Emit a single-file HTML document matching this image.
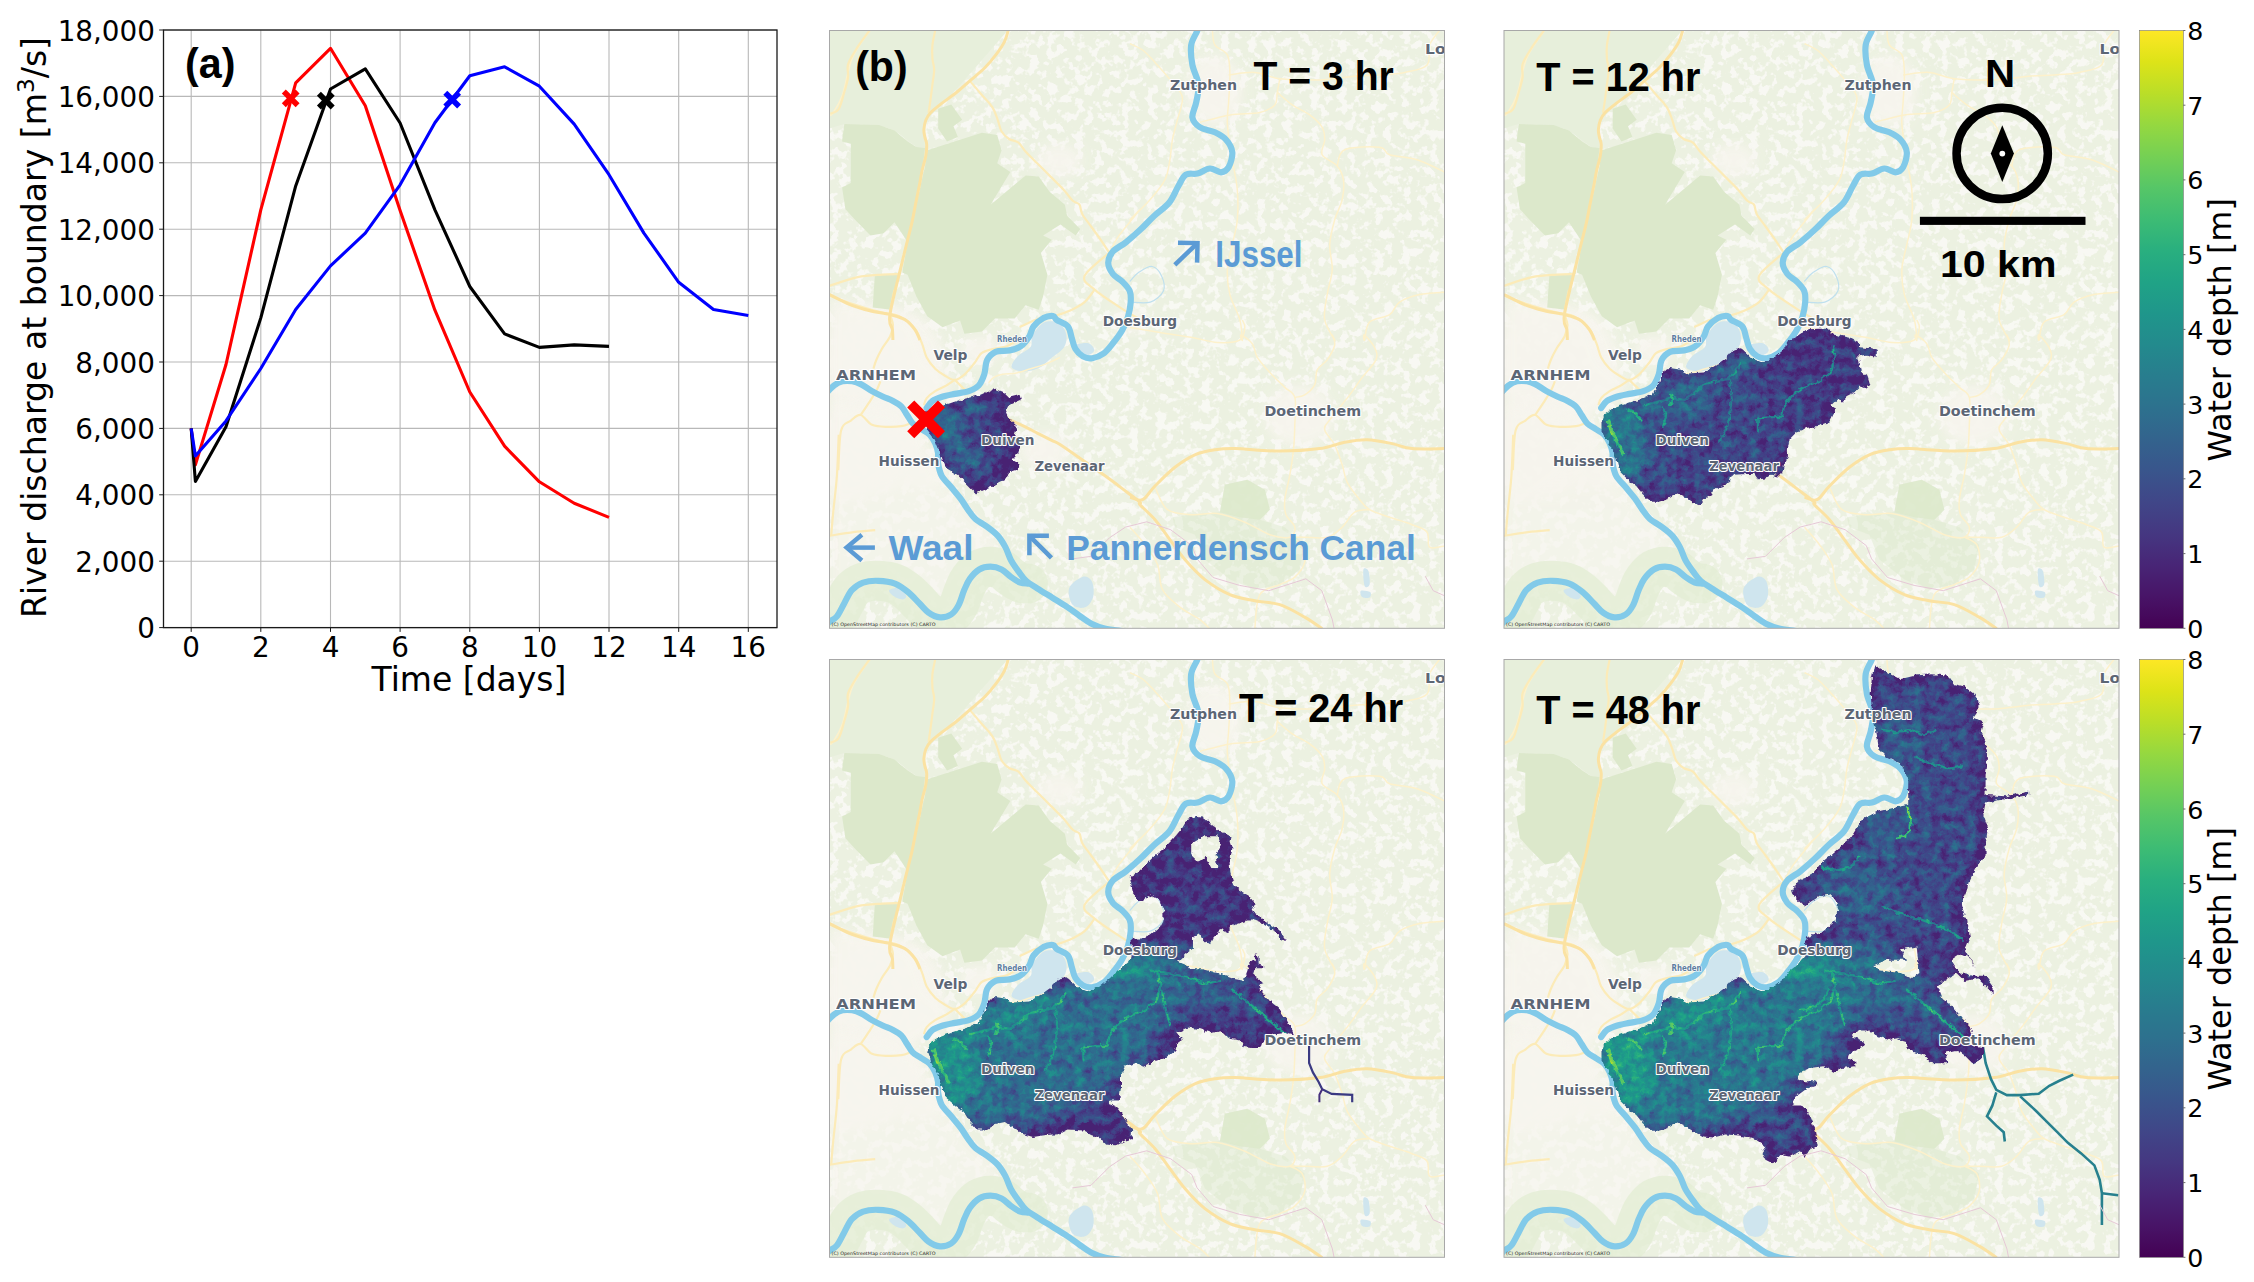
<!DOCTYPE html>
<html lang="en"><head><meta charset="utf-8"><title>Flood propagation figure</title>
<style>
html,body{margin:0;padding:0;background:#fff}
svg{display:block}
.dj{font-family:"DejaVu Sans","Liberation Sans",sans-serif}
.cb{font-family:"Liberation Sans","DejaVu Sans",sans-serif;font-weight:700}
.ml{font-family:"DejaVu Sans","Liberation Sans",sans-serif;font-weight:700;fill:#5c6675;stroke:#fff;stroke-width:2.2px;paint-order:stroke;stroke-linejoin:round}
</style></head><body>
<svg width="2254" height="1282" viewBox="0 0 2254 1282">
<rect width="2254" height="1282" fill="#fff"/>
<defs>
<linearGradient id="vir" x1="0" y1="1" x2="0" y2="0">
<stop offset="0.0000" stop-color="#440154"/>
<stop offset="0.0526" stop-color="#481467"/>
<stop offset="0.1053" stop-color="#482576"/>
<stop offset="0.1579" stop-color="#453781"/>
<stop offset="0.2105" stop-color="#404688"/>
<stop offset="0.2632" stop-color="#39558c"/>
<stop offset="0.3158" stop-color="#33638d"/>
<stop offset="0.3684" stop-color="#2d718e"/>
<stop offset="0.4211" stop-color="#287d8e"/>
<stop offset="0.4737" stop-color="#238a8d"/>
<stop offset="0.5263" stop-color="#1f968b"/>
<stop offset="0.5789" stop-color="#20a386"/>
<stop offset="0.6316" stop-color="#29af7f"/>
<stop offset="0.6842" stop-color="#3dbc74"/>
<stop offset="0.7368" stop-color="#56c667"/>
<stop offset="0.7895" stop-color="#75d054"/>
<stop offset="0.8421" stop-color="#95d840"/>
<stop offset="0.8947" stop-color="#bade28"/>
<stop offset="0.9474" stop-color="#dde318"/>
<stop offset="1.0000" stop-color="#fde725"/>
</linearGradient>
<clipPath id="pc"><rect x="0" y="0" width="615.0" height="597.8"/></clipPath>
<filter id="b3" x="-20%" y="-20%" width="140%" height="140%"><feGaussianBlur stdDeviation="3"/></filter>
<filter id="b6" x="-20%" y="-20%" width="140%" height="140%"><feGaussianBlur stdDeviation="6"/></filter>
<filter id="b10" x="-30%" y="-30%" width="160%" height="160%"><feGaussianBlur stdDeviation="10"/></filter>
<filter id="b1" x="-5%" y="-5%" width="110%" height="110%"><feGaussianBlur stdDeviation="0.6"/></filter>
<filter id="mott" x="0" y="0" width="100%" height="100%">
<feTurbulence type="fractalNoise" baseFrequency="0.11" numOctaves="3" seed="7" result="n"/>
<feColorMatrix in="n" type="matrix" values="0 0 0 0 0.973  0 0 0 0 0.965  0 0 0 0 0.937  0 0 -9 0 4.45"/>
<feGaussianBlur stdDeviation="0.5"/>
</filter>
<filter id="depth" filterUnits="userSpaceOnUse" x="0" y="0" width="615.0" height="597.8" color-interpolation-filters="sRGB">
<feTurbulence type="fractalNoise" baseFrequency="0.11" numOctaves="3" seed="11" result="t"/>
<feColorMatrix in="t" type="matrix" values="1 0 0 0 0  1 0 0 0 0  1 0 0 0 0  0 0 0 0 1" result="n"/>
<feComposite in="SourceGraphic" in2="n" operator="arithmetic" k1="0" k2="1" k3="0.44" k4="-0.2" result="d"/>
<feComponentTransfer in="d" result="c"><feFuncR type="table" tableValues="0.283 0.283 0.283 0.283 0.279 0.271 0.259 0.245 0.230 0.214 0.199 0.186 0.173 0.161 0.149 0.138 0.128 0.121 0.121 0.132 0.158 0.197 0.246 0.304 0.369 0.440 0.516 0.596 0.678 0.762 0.846 0.926 0.993"/><feFuncG type="table" tableValues="0.136 0.136 0.136 0.136 0.175 0.214 0.252 0.288 0.322 0.356 0.388 0.419 0.449 0.479 0.508 0.537 0.567 0.596 0.626 0.655 0.684 0.712 0.739 0.765 0.789 0.811 0.831 0.849 0.864 0.876 0.887 0.897 0.906"/><feFuncB type="table" tableValues="0.453 0.453 0.453 0.453 0.483 0.507 0.525 0.537 0.546 0.551 0.555 0.557 0.558 0.558 0.557 0.555 0.551 0.544 0.533 0.520 0.502 0.479 0.452 0.420 0.383 0.341 0.294 0.243 0.190 0.137 0.100 0.104 0.144"/><feFuncA type="linear" slope="0" intercept="1"/></feComponentTransfer>
</filter>
<filter id="rag" filterUnits="userSpaceOnUse" x="0" y="0" width="615.0" height="597.8" color-interpolation-filters="sRGB">
<feTurbulence type="fractalNoise" baseFrequency="0.22" numOctaves="2" seed="5" result="r"/>
<feDisplacementMap in="SourceGraphic" in2="r" scale="5" xChannelSelector="R" yChannelSelector="G"/>
</filter>
<filter id="fnoise" x="0" y="0" width="100%" height="100%">
<feTurbulence type="fractalNoise" baseFrequency="0.4" numOctaves="2" seed="3" result="n"/>
<feColorMatrix in="n" type="matrix" values="0 0 0 0 0.14  0 0 0 0 0.55  0 0 0 0 0.55  0 -7 0 0 3.3"/>
</filter>
<g id="basemap">
<rect x="0" y="0" width="615.0" height="597.8" fill="#ecf1e1"/>
<rect x="0" y="0" width="615.0" height="597.8" filter="url(#mott)" opacity="0.8"/>
<ellipse cx="55" cy="330" rx="60" ry="55" fill="#f7f5ee" filter="url(#b6)" opacity="0.95"/>
<ellipse cx="40" cy="420" rx="50" ry="45" fill="#f7f5ee" filter="url(#b6)" opacity="0.95"/>
<ellipse cx="385" cy="60" rx="28" ry="35" fill="#f7f5ee" filter="url(#b6)" opacity="0.95"/>
<ellipse cx="470" cy="385" rx="35" ry="30" fill="#f7f5ee" filter="url(#b6)" opacity="0.95"/>
<ellipse cx="215" cy="420" rx="25" ry="18" fill="#f7f5ee" filter="url(#b6)" opacity="0.95"/>
<ellipse cx="95" cy="440" rx="25" ry="18" fill="#f7f5ee" filter="url(#b6)" opacity="0.95"/>
<ellipse cx="150" cy="320" rx="20" ry="14" fill="#f7f5ee" filter="url(#b6)" opacity="0.95"/>
<ellipse cx="300" cy="290" rx="18" ry="12" fill="#f7f5ee" filter="url(#b6)" opacity="0.95"/>
<ellipse cx="230" cy="130" rx="22" ry="16" fill="#f7f5ee" filter="url(#b6)" opacity="0.95"/>
<path d="M-0.5 -0.4L178.6 -0.4L117.5 69.5L96.7 89.2L94.5 100.1L95.6 117.6L86.9 116.5L65.0 100.1L49.7 94.6L14.8 93.5L-0.5 97.9Z" fill="#e7efdb"/>
<path d="M0.0 268.0L55.0 276.0L85.0 292.0L98.0 330.0L125.0 350.0L110.0 372.0L85.0 385.0L95.0 410.0L70.0 440.0L30.0 470.0L0.0 470.0Z" fill="#f7f5ee" filter="url(#b6)" opacity="0.9"/>
<path d="M0.0 372.0L60.0 378.0L95.0 405.0L108.0 440.0L135.0 475.0L165.0 505.0L185.0 545.0L150.0 535.0L125.0 580.0L95.0 582.0L60.0 552.0L20.0 560.0L0.0 592.0Z" fill="#f7f5ee" filter="url(#b6)" opacity="0.7"/>
<path d="M14.8 93.5L49.7 94.6L65.0 100.1L78.1 111.0L86.9 116.5L95.6 117.6L93.4 135.0L89.1 161.2L84.7 187.5L78.1 211.5L65.0 191.8L54.1 202.7L41.0 204.9L27.9 191.8L15.9 178.7L12.6 156.9L21.3 152.5L21.3 113.2L12.6 111.0Z" fill="#dce8cb"/>
<path d="M73.8 226.8L69.4 243.2L61.8 279.2L43.2 277.0L45.4 244.2L71.6 243.6Z" fill="#dce8cb"/>
<path d="M97.8 119.7L152.4 102.3L167.7 104.4L172.1 119.7L167.7 132.8L180.8 141.6L161.1 174.3L196.1 144.9L209.2 146.0L220.1 161.2L235.4 174.3L237.6 185.3L250.7 198.4L246.3 204.9L231.0 194.0L213.6 204.9L222.3 209.3L211.4 222.4L217.9 244.2L213.6 266.1L209.2 279.2L196.1 274.8L185.2 287.9L165.5 287.9L152.4 301.0L134.9 303.2L130.6 290.1L113.1 296.7L97.8 285.8L86.9 266.1L78.1 244.2L72.7 242.1L78.1 211.5L86.9 174.3L95.6 135.0Z" fill="#dce8cb"/>
<path d="M108.7 78.2L121.8 73.9L132.7 89.2L124.0 95.7L128.4 106.6L117.5 111.0L108.7 97.9Z" fill="#dce8cb"/>
<path d="M395.4 454.3L417.8 449.3L435.3 459.2L440.3 479.2L430.3 489.2L455.3 496.7L475.2 514.2L470.2 539.1L450.3 554.1L425.3 559.1L400.4 549.1L375.4 529.1L365.4 504.2L345.4 496.7L342.9 486.7L360.4 484.2L390.4 481.7Z" fill="#dce8cb" opacity="0.45"/>
<path d="M395.4 454.3L417.8 449.3L435.3 459.2L440.3 479.2L430.3 489.2L410.3 486.7L390.4 481.7Z" fill="#dce8cb" opacity="0.8"/>
<path d="M-5.8 598.0C-4.8 596.9 -2.3 593.5 -0.1 591.5C2.1 589.5 4.9 589.0 7.4 585.9C9.9 582.8 12.3 577.1 14.8 572.7C17.3 568.3 19.2 563.0 22.3 559.6C25.4 556.2 29.2 553.7 33.6 552.1C38.0 550.5 43.3 550.1 48.6 550.3C53.9 550.5 60.4 551.2 65.4 553.1C70.4 555.0 74.4 558.2 78.5 561.5C82.6 564.8 86.4 569.3 89.8 572.7C93.2 576.1 95.7 579.8 99.1 582.1C102.5 584.5 106.7 586.5 110.4 586.8C114.2 587.1 118.5 586.0 121.6 584.0C124.7 582.0 126.9 578.7 129.1 574.6C131.3 570.5 132.8 564.0 134.7 559.6C136.6 555.2 137.8 551.8 140.3 548.4C142.8 545.0 146.3 541.0 149.7 539.0C153.1 537.0 157.2 536.2 160.9 536.2C164.6 536.2 168.7 537.3 172.1 539.0C175.5 540.7 178.4 544.3 181.5 546.5C184.6 548.7 188.1 551.0 190.9 552.1C193.7 553.2 197.2 552.9 198.4 553.1" fill="none" stroke="#e3edd4" stroke-width="40" stroke-linecap="round" opacity="0.8"/>
<path d="M202.9 305.3C205.1 301.2 209.7 294.4 214.1 292.2C218.5 290.0 225.3 290.3 229.1 292.2C232.8 294.1 235.7 299.3 236.6 303.4C237.5 307.4 237.2 312.4 234.7 316.5C232.2 320.6 225.6 324.4 221.6 327.8C217.6 331.2 214.8 334.9 210.4 337.1C206.0 339.3 200.1 340.9 195.4 340.9C190.7 340.9 183.6 339.6 182.3 337.1C181.1 334.6 184.8 329.3 187.9 325.9C191.0 322.5 198.5 319.9 201.0 316.5C203.5 313.1 200.7 309.4 202.9 305.3Z" fill="#cfe5ee"/>
<path d="M245.9 314.7C247.8 313.1 255.9 311.9 259.0 312.8C262.1 313.7 265.3 318.1 264.7 320.3C264.1 322.5 258.1 325.6 255.3 325.9C252.5 326.2 249.4 324.0 247.8 322.1C246.2 320.2 244.0 316.2 245.9 314.7Z" fill="#cfe5ee"/>
<path d="M239.6 557.8C241.2 553.1 249.0 547.8 252.7 546.5C256.4 545.2 260.1 547.2 262.0 550.3C263.9 553.4 264.8 560.9 263.9 565.3C263.0 569.7 259.8 575.0 256.4 576.5C253.0 578.0 246.1 577.7 243.3 574.6C240.5 571.5 238.0 562.5 239.6 557.8Z" fill="#cfe5ee"/>
<path d="M59.8 559.6C60.8 558.4 66.4 556.8 69.2 557.8C72.0 558.8 76.0 563.4 76.6 565.3C77.2 567.2 75.1 569.0 72.9 569.0C70.7 569.0 65.7 566.9 63.5 565.3C61.3 563.7 58.8 560.9 59.8 559.6Z" fill="#cfe5ee"/>
<path d="M533.9 539.1C534.5 536.6 537.9 537.9 538.9 540.4C539.9 542.9 540.7 551.6 540.1 554.1C539.5 556.6 536.1 557.9 535.1 555.4C534.1 552.9 533.3 541.6 533.9 539.1Z" fill="#cfe5ee"/>
<path d="M531.4 560.3C532.7 559.5 539.1 560.5 540.6 561.6C542.1 562.7 541.4 566.3 540.1 567.1C538.8 567.9 534.2 567.7 532.7 566.6C531.2 565.5 530.1 561.1 531.4 560.3Z" fill="#cfe5ee"/>
<path d="M300.5 13.2C302.6 14.2 308.8 16.4 313.0 19.5C317.2 22.6 320.5 26.5 325.5 31.9C330.5 37.3 338.3 46.1 342.9 51.9C347.5 57.7 352.1 60.7 352.9 66.9C353.7 73.2 349.6 82.3 347.9 89.4C346.2 96.5 344.1 102.6 342.9 109.3C341.6 116.0 341.6 122.6 340.4 129.3C339.1 136.0 338.7 142.7 335.4 149.3C332.1 156.0 326.3 162.5 320.5 169.2C314.7 175.8 302.2 187.5 300.5 189.2C298.8 190.9 312.2 176.7 310.5 179.2C308.8 181.7 295.2 197.1 290.1 204.2C285.0 211.3 281.8 218.8 280.1 221.7" fill="none" stroke="#fdf1cb" stroke-width="1.5" stroke-linejoin="round"/>
<path d="M382.9 -0.0C383.3 2.4 382.9 10.4 385.4 14.5C387.9 18.6 395.4 19.4 397.9 24.4C400.4 29.4 400.2 36.5 400.4 44.4C400.6 52.3 399.5 63.6 399.1 71.9C398.7 80.2 397.3 84.7 397.9 94.3C398.5 103.9 401.1 118.5 402.8 129.3C404.5 140.1 407.0 149.2 407.8 159.2C408.6 169.2 408.6 180.0 407.8 189.2C407.0 198.4 404.5 205.9 402.8 214.2C401.1 222.5 398.3 230.8 397.9 239.1C397.5 247.4 398.3 255.8 400.4 264.1C402.5 272.4 408.2 281.5 410.3 289.1C412.4 296.7 412.6 306.9 412.8 309.5C413.0 312.1 409.9 303.9 411.6 304.5C413.3 305.1 420.1 309.5 422.8 313.2C425.5 316.9 424.9 322.1 427.8 326.9C430.7 331.7 435.7 336.9 440.3 341.9C444.9 346.9 451.1 352.7 455.3 356.9C459.5 361.1 463.6 360.7 465.3 366.9C467.0 373.1 465.5 385.6 465.3 394.3C465.1 403.0 464.8 411.0 464.0 419.3C463.2 427.6 461.8 436.0 460.3 444.3C458.9 452.6 455.9 462.6 455.3 469.2C454.7 475.8 454.8 479.6 456.5 484.2C458.2 488.8 464.7 492.9 465.3 496.7C465.9 500.4 464.5 505.4 460.3 506.7C456.1 507.9 447.8 506.7 440.3 504.2C432.8 501.7 424.0 495.2 415.3 491.7C406.6 488.2 396.6 484.2 387.9 483.0C379.2 481.8 371.2 484.8 362.9 484.2C354.6 483.6 344.1 483.8 337.9 479.2C331.7 474.6 327.6 460.4 325.5 456.7" fill="none" stroke="#fdf1cb" stroke-width="1.5" stroke-linejoin="round"/>
<path d="M399.1 44.4C403.5 44.0 416.8 41.3 425.3 41.9C433.8 42.5 439.5 47.0 450.3 48.2C461.1 49.5 477.7 49.8 490.2 49.4C502.7 49.0 515.2 46.5 525.2 45.7C535.2 44.9 541.8 45.0 550.1 44.4C558.4 43.8 567.2 43.6 575.1 41.9C583.0 40.2 593.4 39.0 597.6 34.4C601.8 29.8 598.0 20.2 600.1 14.5C602.2 8.8 608.4 2.4 610.0 -0.0" fill="none" stroke="#fdf1cb" stroke-width="1.5" stroke-linejoin="round"/>
<path d="M370.4 91.8C375.4 90.6 390.4 86.1 400.4 84.4C410.4 82.8 422.8 83.6 430.3 81.9C437.8 80.2 442.4 77.7 445.3 74.4C448.2 71.1 447.0 66.3 447.8 61.9C448.6 57.5 449.9 50.5 450.3 48.2" fill="none" stroke="#fdf1cb" stroke-width="1.5" stroke-linejoin="round"/>
<path d="M447.8 61.9C450.3 64.0 457.4 70.7 462.8 74.4C468.2 78.2 475.2 80.7 480.2 84.4C485.2 88.1 490.2 92.7 492.7 96.8C495.2 100.9 495.2 104.7 495.2 109.3C495.2 113.9 490.6 119.9 492.7 124.3C494.8 128.7 504.2 131.3 507.7 135.5C511.2 139.7 513.1 143.7 513.9 149.3C514.7 154.9 514.2 162.5 512.7 169.2C511.3 175.8 507.3 181.7 505.2 189.2C503.1 196.7 500.6 205.9 500.2 214.2C499.8 222.5 503.1 230.8 502.7 239.1C502.3 247.4 498.9 255.8 497.7 264.1C496.4 272.4 493.9 281.5 495.2 289.1C496.4 296.7 503.9 306.9 505.2 309.5C506.4 312.1 502.7 303.7 502.7 304.5C502.7 305.3 506.0 310.4 505.2 314.5C504.4 318.6 500.6 325.2 497.7 329.4C494.8 333.5 489.8 335.2 487.7 339.4C485.6 343.6 487.3 350.2 485.2 354.4C483.1 358.6 478.5 362.3 475.2 364.4C471.9 366.5 466.9 366.5 465.3 366.9" fill="none" stroke="#fdf1cb" stroke-width="1.5" stroke-linejoin="round"/>
<path d="M507.7 135.5C508.9 132.8 508.1 122.4 515.2 119.3C522.3 116.2 542.6 116.0 550.1 116.8C557.6 117.6 553.9 122.2 560.1 124.3C566.4 126.4 578.4 126.4 587.6 129.3C596.8 132.2 610.9 139.7 615.5 141.8" fill="none" stroke="#fdf1cb" stroke-width="1.5" stroke-linejoin="round"/>
<path d="M615.5 261.6C611.3 262.0 597.7 262.4 590.1 264.1C582.5 265.8 575.1 268.3 570.1 271.6C565.1 274.9 565.1 280.8 560.1 284.1C555.1 287.4 544.3 287.3 540.1 291.5C535.9 295.7 535.9 307.3 535.1 309.5C534.3 311.7 533.4 303.2 535.1 304.5C536.8 305.8 543.2 312.9 545.1 317.0C547.0 321.1 548.5 324.4 546.4 329.4C544.3 334.4 537.1 341.1 532.7 346.9C528.3 352.7 525.6 357.3 520.2 364.4C514.8 371.5 504.4 383.6 500.2 389.4C496.0 395.2 494.4 395.1 495.2 399.3C496.0 403.5 502.3 408.5 505.2 414.3C508.1 420.1 510.6 428.1 512.7 434.3C514.8 440.6 514.8 446.0 517.7 451.8C520.6 457.6 526.5 464.6 530.2 469.2C533.9 473.8 535.1 476.3 540.1 479.2C545.1 482.1 553.0 484.2 560.1 486.7C567.2 489.2 576.4 491.7 582.6 494.2C588.9 496.7 594.7 497.9 597.6 501.7C600.5 505.4 597.1 514.4 600.1 516.7C603.1 519.0 612.9 515.6 615.5 515.4" fill="none" stroke="#fdf1cb" stroke-width="1.5" stroke-linejoin="round"/>
<path d="M540.1 479.2C537.6 479.6 529.8 478.8 525.2 481.7C520.6 484.6 517.3 492.5 512.7 496.7C508.1 500.9 503.9 505.0 497.7 506.7C491.4 508.4 481.4 506.7 475.2 506.7C469.0 506.7 462.8 506.7 460.3 506.7" fill="none" stroke="#fdf1cb" stroke-width="1.5" stroke-linejoin="round"/>
<path d="M425.3 598.3C426.1 592.6 426.1 571.5 430.3 564.1C434.5 556.7 444.5 557.0 450.3 554.1C456.1 551.2 461.2 550.4 465.3 546.6C469.4 542.9 474.0 537.0 475.2 531.6C476.4 526.2 475.2 518.4 472.7 514.2C470.2 510.1 462.4 507.9 460.3 506.7" fill="none" stroke="#fdf1cb" stroke-width="1.5" stroke-linejoin="round"/>
<path d="M300.5 496.7C303.0 499.6 310.9 508.0 315.5 514.2C320.1 520.4 325.1 526.6 328.0 534.1C330.9 541.6 329.3 552.0 333.0 559.1C336.7 566.2 344.2 571.6 350.4 576.6C356.6 581.6 365.4 585.5 370.4 589.1C375.4 592.7 378.7 596.8 380.4 598.3" fill="none" stroke="#fdf1cb" stroke-width="1.5" stroke-linejoin="round"/>
<path d="M300.5 297.0C305.5 297.8 320.1 300.3 330.5 302.0C340.9 303.7 353.3 305.3 362.9 307.0C372.5 308.7 380.0 311.6 387.9 312.0C395.8 312.4 405.7 312.0 410.3 309.5C414.9 307.0 414.9 300.3 415.3 297.0C415.7 293.7 413.2 290.8 412.8 289.5" fill="none" stroke="#fdf1cb" stroke-width="1.5" stroke-linejoin="round"/>
<path d="M230.5 326.9C227.9 328.1 220.1 332.0 215.2 333.9C210.3 335.8 205.9 336.8 201.2 338.2C196.5 339.6 191.8 341.5 187.1 342.4C182.4 343.3 176.8 343.1 173.1 343.8C169.4 344.5 167.0 345.2 164.7 346.6C162.3 348.0 159.9 351.3 159.0 352.2" fill="none" stroke="#fdf1cb" stroke-width="1.5" stroke-linejoin="round"/>
<path d="M40.4 -0.0C37.5 4.5 27.6 16.2 23.0 26.9C18.4 37.6 16.3 55.0 13.0 64.4C9.7 73.8 5.2 79.8 3.0 83.1C0.8 86.3 0.5 83.8 -0.0 83.9" fill="none" stroke="#fdf1cb" stroke-width="1.5" stroke-linejoin="round"/>
<path d="M0.1 265.1C3.2 266.3 12.5 270.0 18.6 272.1C24.7 274.2 31.2 276.2 36.8 277.8C42.4 279.4 48.3 281.1 52.3 282.0C56.3 282.9 57.9 282.8 60.7 283.4C63.5 284.0 66.2 284.1 69.2 285.5C72.2 286.9 76.0 289.1 79.0 291.8C82.0 294.5 85.1 297.9 87.4 301.6C89.7 305.4 91.4 310.1 93.0 314.3C94.6 318.5 95.1 322.9 97.2 326.9C99.3 330.9 102.7 335.1 105.7 338.2C108.8 341.2 112.2 343.3 115.5 345.2C118.8 347.1 122.0 349.6 125.3 349.4C128.6 349.2 131.9 346.6 135.2 343.8C138.5 341.0 142.2 336.0 145.0 332.5C147.8 329.0 148.9 325.0 152.0 322.7C155.1 320.4 159.1 319.7 163.3 318.5C167.5 317.3 173.3 317.1 177.3 315.7C181.3 314.3 185.5 311.0 187.1 310.1" fill="none" stroke="#fcebb8" stroke-width="2.2" stroke-linejoin="round"/>
<path d="M64.9 259.5C64.4 261.8 62.8 269.5 62.1 273.5C61.4 277.5 60.5 279.9 60.7 283.4C60.9 286.9 63.5 290.9 63.5 294.6C63.5 298.3 62.6 301.8 60.7 305.8C58.8 309.8 54.6 314.5 52.3 318.5C50.0 322.5 48.1 326.4 46.7 329.7C45.3 333.0 44.4 336.8 43.9 338.2" fill="none" stroke="#fcebb8" stroke-width="2.2" stroke-linejoin="round"/>
<path d="M125.3 349.4C123.9 350.3 120.2 353.1 116.9 355.0C113.6 356.9 109.0 358.5 105.7 360.6C102.4 362.7 99.1 365.2 97.2 367.6C95.3 370.0 94.9 373.5 94.4 374.7" fill="none" stroke="#fcebb8" stroke-width="2.2" stroke-linejoin="round"/>
<path d="M125.3 349.4C126.5 350.6 130.5 354.5 132.4 356.4C134.3 358.3 135.9 359.9 136.6 360.6" fill="none" stroke="#fcebb8" stroke-width="2.2" stroke-linejoin="round"/>
<path d="M8.8 439.6C9.3 433.0 9.5 408.1 11.6 399.9C13.7 391.6 18.1 392.7 21.4 390.1C24.7 387.5 27.7 383.8 31.2 384.5C34.7 385.2 38.0 392.3 42.5 394.3C47.0 396.3 53.0 396.2 57.9 396.4C62.8 396.6 68.2 396.3 72.0 395.7C75.8 395.1 79.0 393.4 80.4 392.9" fill="none" stroke="#fcebb8" stroke-width="2.2" stroke-linejoin="round"/>
<path d="M31.2 384.5C32.6 382.4 37.1 375.9 39.7 371.9C42.3 367.9 44.8 364.1 46.7 360.6C48.6 357.1 50.2 352.4 50.9 350.8" fill="none" stroke="#fcebb8" stroke-width="2.2" stroke-linejoin="round"/>
<path d="M-0.0 255.4C4.7 253.9 19.2 248.5 28.0 246.6C36.8 244.7 45.8 244.6 52.9 244.1C60.0 243.6 67.5 243.7 70.4 243.6" fill="none" stroke="#fcebb8" stroke-width="2.2" stroke-linejoin="round"/>
<path d="M-0.1 505.3C3.9 504.7 16.6 502.5 24.2 501.6C31.8 500.7 42.1 500.0 45.7 499.7" fill="none" stroke="#fcebb8" stroke-width="2.2" stroke-linejoin="round"/>
<path d="M9.2 404.2C8.9 411.1 8.3 432.3 7.4 445.4C6.5 458.5 4.5 472.9 3.6 482.9C2.6 492.9 2.0 501.6 1.7 505.3" fill="none" stroke="#fcebb8" stroke-width="2.2" stroke-linejoin="round"/>
<path d="M140.3 50.4C142.2 52.6 147.8 59.1 151.5 63.5C155.2 67.9 160.0 72.2 162.8 76.6C165.6 81.0 166.9 85.7 168.4 89.8C169.9 93.9 170.2 97.9 172.1 101.0C174.0 104.1 176.8 106.6 179.6 108.5C182.4 110.4 186.2 110.0 189.0 112.2C191.8 114.4 193.4 118.2 196.5 121.6C199.6 125.0 203.6 128.8 207.7 132.8C211.8 136.9 216.4 141.5 220.8 145.9C225.2 150.3 230.2 154.9 233.9 159.0C237.7 163.1 240.6 167.8 243.3 170.3C246.0 172.8 248.3 171.8 249.9 174.0C251.5 176.2 250.7 179.7 252.7 183.4C254.7 187.2 258.9 192.1 262.0 196.5C265.1 200.9 268.6 205.5 271.4 209.6C274.2 213.7 277.4 218.8 278.9 220.8C280.3 222.8 284.1 217.6 280.1 221.7C276.1 225.8 257.6 239.2 255.1 245.4C252.6 251.6 259.3 253.9 265.1 259.1C270.9 264.3 282.5 271.6 290.1 276.6C297.7 281.6 307.1 287.0 310.5 289.1" fill="none" stroke="#fcebb8" stroke-width="2.2" stroke-linejoin="round"/>
<path d="M265.1 259.1C263.4 261.2 259.3 268.1 255.1 271.6C250.9 275.1 245.1 278.0 240.1 280.3C235.1 282.6 230.2 284.1 225.2 285.3C220.2 286.6 216.0 285.9 210.2 287.8C204.4 289.7 193.5 295.1 190.2 296.5" fill="none" stroke="#fcebb8" stroke-width="2.2" stroke-linejoin="round"/>
<path d="M105.7 -0.1C105.2 2.4 103.4 10.1 102.9 14.8C102.4 19.5 102.6 23.9 102.9 28.0C103.2 32.1 104.7 34.8 104.7 39.2C104.7 43.6 103.5 49.2 102.9 54.2C102.3 59.2 101.6 64.5 101.0 69.2C100.4 73.9 99.4 80.1 99.1 82.3" fill="none" stroke="#fcebb8" stroke-width="2.2" stroke-linejoin="round"/>
<path d="M40.1 -0.1C38.1 2.7 31.6 11.1 28.0 16.7C24.4 22.3 20.2 28.6 18.6 33.6C17.0 38.6 19.2 42.0 18.6 46.7C18.0 51.4 16.4 56.4 14.8 61.7C13.2 67.0 11.5 74.9 9.2 78.5C6.9 82.1 2.2 82.4 0.8 83.2" fill="none" stroke="#fcebb8" stroke-width="2.2" stroke-linejoin="round"/>
<path d="M178.7 -0.1C178.1 1.8 177.0 7.0 175.0 11.1C173.0 15.1 169.8 19.8 166.5 24.2C163.2 28.6 159.7 32.9 155.3 37.3C150.9 41.7 145.0 46.3 140.3 50.4C135.6 54.5 131.9 58.0 127.2 61.7C122.5 65.5 116.6 69.5 112.2 72.9C107.8 76.3 103.7 79.5 101.0 82.3C98.3 85.1 97.4 87.0 96.3 89.8C95.2 92.6 94.6 96.3 94.4 99.1C94.2 101.9 94.9 104.1 95.4 106.6C95.9 109.1 97.1 111.0 97.2 114.1C97.3 117.2 97.1 120.9 96.3 125.3C95.5 129.7 93.7 135.3 92.6 140.3C91.5 145.3 90.9 149.7 89.8 155.3C88.7 160.9 87.2 167.8 86.0 174.0C84.8 180.2 83.7 186.4 82.3 192.7C80.9 198.9 79.2 205.2 77.6 211.5C76.0 217.8 75.8 218.5 72.9 230.6C70.0 242.7 62.1 272.7 60.4 284.1C58.7 295.5 62.4 294.8 62.9 299.0C63.4 303.2 63.3 307.8 63.4 309.5" fill="none" stroke="#fbe2a2" stroke-width="3.0" stroke-linejoin="round"/>
<path d="M300.5 466.7C302.6 467.1 308.8 471.1 313.0 469.2C317.2 467.3 320.1 460.9 325.5 455.5C330.9 450.1 338.8 442.0 345.4 436.8C352.0 431.6 358.7 427.2 365.4 424.3C372.1 421.4 378.8 420.3 385.4 419.3C392.0 418.3 394.5 417.9 405.3 418.1C416.1 418.3 436.2 420.6 450.3 420.6C464.4 420.6 479.4 419.6 490.2 418.1C501.0 416.6 507.3 413.3 515.2 411.8C523.1 410.3 529.7 409.1 537.6 409.3C545.5 409.5 555.1 411.6 562.6 413.1C570.1 414.6 573.8 417.3 582.6 418.1C591.4 418.9 610.0 418.1 615.5 418.1" fill="none" stroke="#fbe2a2" stroke-width="3.0" stroke-linejoin="round"/>
<path d="M178.7 388.7C181.3 389.9 189.3 393.3 194.2 395.7C199.1 398.1 203.5 400.4 208.2 402.8C212.9 405.2 218.5 407.9 222.2 409.8C225.9 411.7 225.4 410.8 230.5 414.0C235.6 417.2 244.8 423.8 252.6 429.3C260.4 434.8 270.1 441.4 277.6 446.8C285.1 452.2 292.1 457.6 297.6 461.7C303.1 465.8 308.4 469.6 310.5 471.7C312.6 473.8 308.0 471.3 310.5 474.2C313.0 477.1 320.5 483.4 325.5 489.2C330.5 495.0 335.4 502.5 340.4 509.2C345.4 515.9 349.6 522.5 355.4 529.1C361.2 535.8 367.9 543.3 375.4 549.1C382.9 554.9 392.1 560.6 400.4 564.1C408.7 567.6 417.0 568.6 425.3 570.3C433.6 572.0 442.0 571.4 450.3 574.1C458.6 576.8 468.1 582.6 475.2 586.6C482.3 590.6 489.8 596.3 492.7 598.3" fill="none" stroke="#fbe2a2" stroke-width="3.0" stroke-linejoin="round"/>
<path d="M-0.0 264.1C3.4 265.8 13.8 271.4 20.5 274.1C27.2 276.8 33.8 278.6 40.4 280.3C47.0 282.0 54.6 282.6 60.4 284.1C66.2 285.6 71.2 286.6 75.4 289.1C79.6 291.6 82.9 295.6 85.4 299.0C87.9 302.4 89.6 307.8 90.4 309.5" fill="none" stroke="#fbe2a2" stroke-width="3.0" stroke-linejoin="round"/>
<path d="M301.2 271.6C304.5 271.6 315.4 273.5 320.8 271.6C326.2 269.7 332.0 264.8 333.9 260.4C335.8 256.0 334.0 249.5 332.1 245.4C330.2 241.3 326.4 236.6 322.7 236.0C318.9 235.4 313.4 239.1 309.6 241.6C305.9 244.1 301.8 249.4 300.2 251.0" fill="none" stroke="#bfe0ee" stroke-width="1.2"/>
<path d="M-5.8 598.0C-4.8 596.9 -2.3 593.5 -0.1 591.5C2.1 589.5 4.9 589.0 7.4 585.9C9.9 582.8 12.3 577.1 14.8 572.7C17.3 568.3 19.2 563.0 22.3 559.6C25.4 556.2 29.2 553.7 33.6 552.1C38.0 550.5 43.3 550.1 48.6 550.3C53.9 550.5 60.4 551.2 65.4 553.1C70.4 555.0 74.4 558.2 78.5 561.5C82.6 564.8 86.4 569.3 89.8 572.7C93.2 576.1 95.7 579.8 99.1 582.1C102.5 584.5 106.7 586.5 110.4 586.8C114.2 587.1 118.5 586.0 121.6 584.0C124.7 582.0 126.9 578.7 129.1 574.6C131.3 570.5 132.8 564.0 134.7 559.6C136.6 555.2 137.8 551.8 140.3 548.4C142.8 545.0 146.3 541.0 149.7 539.0C153.1 537.0 157.2 536.2 160.9 536.2C164.6 536.2 168.7 537.3 172.1 539.0C175.5 540.7 178.4 544.3 181.5 546.5C184.6 548.7 188.1 551.0 190.9 552.1C193.7 553.2 197.2 552.9 198.4 553.1" fill="none" stroke="#82cae9" stroke-width="6.2" stroke-linejoin="round" stroke-linecap="round"/>
<path d="M-3.9 363.4C-2.5 362.0 1.7 357.1 4.5 355.0C7.3 352.9 9.9 351.5 13.0 350.8C16.1 350.1 19.8 350.3 22.8 350.8C25.8 351.3 27.9 352.0 31.2 353.6C34.5 355.2 38.8 358.5 42.5 360.6C46.2 362.7 50.2 364.6 53.7 366.2C57.2 367.8 60.5 368.9 63.5 370.5C66.5 372.1 69.7 373.8 72.0 376.1C74.3 378.4 75.7 381.7 77.6 384.5C79.5 387.3 80.9 390.6 83.2 392.9C85.5 395.2 88.8 396.6 91.6 398.5C94.4 400.4 97.8 401.8 100.1 404.2C102.4 406.6 104.3 409.6 105.7 412.6C107.1 415.6 108.0 419.1 108.5 422.4C109.0 425.7 107.9 428.5 108.5 432.3C109.1 436.1 110.0 441.3 112.2 445.4C114.4 449.4 118.5 452.9 121.6 456.6C124.7 460.4 128.1 464.1 130.9 467.9C133.7 471.6 135.9 475.7 138.4 479.1C140.9 482.5 142.8 485.7 145.9 488.5C149.0 491.3 153.4 493.2 157.2 496.0C160.9 498.8 165.3 501.9 168.4 505.3C171.5 508.7 173.7 512.5 175.9 516.6C178.1 520.7 179.3 525.7 181.5 529.7C183.7 533.8 186.5 537.5 189.0 540.9C191.5 544.3 193.4 547.5 196.5 550.3C199.6 553.1 203.3 555.0 207.7 557.8C212.1 560.6 217.7 564.0 222.7 567.1C227.7 570.2 233.0 573.4 237.7 576.5C242.4 579.6 246.8 583.1 250.8 585.9C254.9 588.7 257.9 591.3 262.0 593.3C266.1 595.3 269.8 596.8 275.1 598.0C280.4 599.2 290.8 600.3 293.9 600.8" fill="none" stroke="#82cae9" stroke-width="6.2" stroke-linejoin="round" stroke-linecap="round"/>
<path d="M97.2 377.5C98.2 376.3 100.3 372.4 102.9 370.5C105.5 368.6 109.0 367.4 112.7 366.2C116.4 365.0 120.8 364.3 125.3 363.4C129.8 362.5 135.4 362.0 139.4 360.6C143.4 359.2 146.6 357.8 149.2 355.0C151.8 352.2 153.4 348.0 154.8 343.8C156.2 339.6 155.7 333.4 157.6 329.7C159.5 325.9 162.3 322.9 166.1 321.3C169.8 319.7 175.9 320.8 180.1 319.9C184.3 319.0 188.0 318.0 191.3 315.7C194.6 313.4 197.7 309.1 199.8 305.8C201.9 302.5 201.7 299.0 204.0 296.0C206.3 293.0 210.5 289.4 213.8 287.6C217.1 285.9 221.4 285.2 223.6 285.5C225.8 285.8 224.7 287.7 227.2 289.4C229.7 291.1 235.9 292.9 238.4 295.9C240.9 298.9 240.9 303.4 242.2 307.2C243.4 310.9 244.0 315.3 245.9 318.4C247.8 321.5 250.6 324.3 253.4 325.9C256.2 327.5 259.4 328.3 262.8 327.8C266.2 327.3 270.6 325.6 274.0 323.1C277.4 320.6 280.3 316.7 283.4 312.8C286.5 308.9 290.2 304.1 292.7 299.7C295.2 295.3 297.0 291.3 298.4 286.6C299.8 281.9 300.9 276.0 301.2 271.6C301.5 267.2 301.6 263.8 300.2 260.4C298.8 257.0 295.5 253.8 292.7 251.0C289.9 248.2 285.7 246.6 283.4 243.5C281.1 240.4 278.7 236.1 278.7 232.3C278.7 228.6 280.4 224.4 283.4 221.0C286.4 217.6 291.8 215.4 296.5 211.7C301.2 208.0 306.8 203.0 311.5 198.6C316.2 194.2 319.9 189.8 324.6 185.4C329.3 181.0 335.6 177.3 339.6 172.3C343.7 167.3 346.1 160.2 348.9 155.5C351.7 150.8 353.2 146.3 356.4 144.2C359.6 142.1 363.9 144.0 367.9 143.0C371.9 142.0 376.4 138.2 380.4 138.0C384.3 137.8 388.5 142.0 391.6 141.8C394.7 141.6 397.2 140.1 399.1 136.8C401.0 133.5 403.2 126.4 402.8 121.8C402.4 117.2 399.5 112.6 396.6 109.3C393.7 106.0 389.8 103.9 385.4 101.8C381.0 99.7 374.1 99.3 370.4 96.8C366.6 94.3 363.5 91.1 362.9 86.9C362.3 82.8 365.7 77.3 366.7 71.9C367.7 66.5 369.7 60.6 369.1 54.4C368.5 48.1 364.1 41.0 362.9 34.4C361.7 27.8 360.9 20.2 361.7 14.5C362.5 8.8 366.4 4.2 367.9 -0.0C369.3 -4.2 370.0 -8.8 370.4 -10.5" fill="none" stroke="#82cae9" stroke-width="6.2" stroke-linejoin="round" stroke-linecap="round"/>
</g>
</defs>
<g id="plot-a">
<rect x="163.5" y="30.0" width="613.5" height="597.6" fill="#fff"/>
<line x1="191.2" x2="191.2" y1="30.0" y2="627.6" stroke="#b8b8b8" stroke-width="1.1"/>
<line x1="260.8" x2="260.8" y1="30.0" y2="627.6" stroke="#b8b8b8" stroke-width="1.1"/>
<line x1="330.5" x2="330.5" y1="30.0" y2="627.6" stroke="#b8b8b8" stroke-width="1.1"/>
<line x1="400.1" x2="400.1" y1="30.0" y2="627.6" stroke="#b8b8b8" stroke-width="1.1"/>
<line x1="469.8" x2="469.8" y1="30.0" y2="627.6" stroke="#b8b8b8" stroke-width="1.1"/>
<line x1="539.4" x2="539.4" y1="30.0" y2="627.6" stroke="#b8b8b8" stroke-width="1.1"/>
<line x1="609.0" x2="609.0" y1="30.0" y2="627.6" stroke="#b8b8b8" stroke-width="1.1"/>
<line x1="678.7" x2="678.7" y1="30.0" y2="627.6" stroke="#b8b8b8" stroke-width="1.1"/>
<line x1="748.3" x2="748.3" y1="30.0" y2="627.6" stroke="#b8b8b8" stroke-width="1.1"/>
<line x1="163.5" x2="777.0" y1="627.6" y2="627.6" stroke="#b8b8b8" stroke-width="1.1"/>
<line x1="163.5" x2="777.0" y1="561.2" y2="561.2" stroke="#b8b8b8" stroke-width="1.1"/>
<line x1="163.5" x2="777.0" y1="494.8" y2="494.8" stroke="#b8b8b8" stroke-width="1.1"/>
<line x1="163.5" x2="777.0" y1="428.4" y2="428.4" stroke="#b8b8b8" stroke-width="1.1"/>
<line x1="163.5" x2="777.0" y1="362.0" y2="362.0" stroke="#b8b8b8" stroke-width="1.1"/>
<line x1="163.5" x2="777.0" y1="295.6" y2="295.6" stroke="#b8b8b8" stroke-width="1.1"/>
<line x1="163.5" x2="777.0" y1="229.2" y2="229.2" stroke="#b8b8b8" stroke-width="1.1"/>
<line x1="163.5" x2="777.0" y1="162.8" y2="162.8" stroke="#b8b8b8" stroke-width="1.1"/>
<line x1="163.5" x2="777.0" y1="96.4" y2="96.4" stroke="#b8b8b8" stroke-width="1.1"/>
<line x1="163.5" x2="777.0" y1="30.0" y2="30.0" stroke="#b8b8b8" stroke-width="1.1"/>
<polyline points="191.2,428.4 195.4,464.9 226.0,364.5 260.8,209.8 295.7,82.8 330.5,48.3 365.3,105.8 400.1,210.6 434.9,310.2 469.8,392.0 504.6,446.2 539.4,481.8 574.2,503.2 609.0,517.4" fill="none" stroke="#ff0000" stroke-width="3.1" stroke-linejoin="round" stroke-linecap="butt"/>
<polyline points="191.2,428.4 195.4,481.5 226.0,426.7 260.8,317.9 295.7,185.9 330.5,89.0 365.3,68.8 400.1,123.0 434.9,209.8 469.8,286.5 504.6,333.9 539.4,347.4 574.2,344.9 609.0,346.4" fill="none" stroke="#000000" stroke-width="3.1" stroke-linejoin="round" stroke-linecap="butt"/>
<polyline points="191.2,428.4 195.4,456.0 226.0,420.9 260.8,368.5 295.7,309.5 330.5,265.9 365.3,233.1 400.1,184.8 434.9,122.7 469.8,75.8 504.6,66.8 539.4,86.2 574.2,124.1 609.0,174.7 643.9,233.1 678.7,282.3 713.5,309.5 748.3,315.5" fill="none" stroke="#0000ff" stroke-width="3.1" stroke-linejoin="round" stroke-linecap="butt"/>
<g transform="translate(290.7,98.3)" stroke="#ff0000" stroke-width="5.6" stroke-linecap="butt"><line x1="-6.9" y1="-6.9" x2="6.9" y2="6.9"/><line x1="-6.9" y1="6.9" x2="6.9" y2="-6.9"/></g>
<g transform="translate(325.8,100.6)" stroke="#000000" stroke-width="5.6" stroke-linecap="butt"><line x1="-6.9" y1="-6.9" x2="6.9" y2="6.9"/><line x1="-6.9" y1="6.9" x2="6.9" y2="-6.9"/></g>
<g transform="translate(452.2,99.7)" stroke="#0000ff" stroke-width="5.6" stroke-linecap="butt"><line x1="-6.9" y1="-6.9" x2="6.9" y2="6.9"/><line x1="-6.9" y1="6.9" x2="6.9" y2="-6.9"/></g>
<rect x="163.5" y="30.0" width="613.5" height="597.6" fill="none" stroke="#1a1a1a" stroke-width="1.3"/>
<line x1="191.2" x2="191.2" y1="627.6" y2="631.9" stroke="#1a1a1a" stroke-width="1"/>
<text class="dj" x="191.2" y="656.6" font-size="27.8" text-anchor="middle">0</text>
<line x1="260.8" x2="260.8" y1="627.6" y2="631.9" stroke="#1a1a1a" stroke-width="1"/>
<text class="dj" x="260.8" y="656.6" font-size="27.8" text-anchor="middle">2</text>
<line x1="330.5" x2="330.5" y1="627.6" y2="631.9" stroke="#1a1a1a" stroke-width="1"/>
<text class="dj" x="330.5" y="656.6" font-size="27.8" text-anchor="middle">4</text>
<line x1="400.1" x2="400.1" y1="627.6" y2="631.9" stroke="#1a1a1a" stroke-width="1"/>
<text class="dj" x="400.1" y="656.6" font-size="27.8" text-anchor="middle">6</text>
<line x1="469.8" x2="469.8" y1="627.6" y2="631.9" stroke="#1a1a1a" stroke-width="1"/>
<text class="dj" x="469.8" y="656.6" font-size="27.8" text-anchor="middle">8</text>
<line x1="539.4" x2="539.4" y1="627.6" y2="631.9" stroke="#1a1a1a" stroke-width="1"/>
<text class="dj" x="539.4" y="656.6" font-size="27.8" text-anchor="middle">10</text>
<line x1="609.0" x2="609.0" y1="627.6" y2="631.9" stroke="#1a1a1a" stroke-width="1"/>
<text class="dj" x="609.0" y="656.6" font-size="27.8" text-anchor="middle">12</text>
<line x1="678.7" x2="678.7" y1="627.6" y2="631.9" stroke="#1a1a1a" stroke-width="1"/>
<text class="dj" x="678.7" y="656.6" font-size="27.8" text-anchor="middle">14</text>
<line x1="748.3" x2="748.3" y1="627.6" y2="631.9" stroke="#1a1a1a" stroke-width="1"/>
<text class="dj" x="748.3" y="656.6" font-size="27.8" text-anchor="middle">16</text>
<line x1="159.2" x2="163.5" y1="627.6" y2="627.6" stroke="#1a1a1a" stroke-width="1"/>
<text class="dj" x="154.9" y="638.1" font-size="27.8" text-anchor="end">0</text>
<line x1="159.2" x2="163.5" y1="561.2" y2="561.2" stroke="#1a1a1a" stroke-width="1"/>
<text class="dj" x="154.9" y="571.7" font-size="27.8" text-anchor="end">2,000</text>
<line x1="159.2" x2="163.5" y1="494.8" y2="494.8" stroke="#1a1a1a" stroke-width="1"/>
<text class="dj" x="154.9" y="505.3" font-size="27.8" text-anchor="end">4,000</text>
<line x1="159.2" x2="163.5" y1="428.4" y2="428.4" stroke="#1a1a1a" stroke-width="1"/>
<text class="dj" x="154.9" y="438.9" font-size="27.8" text-anchor="end">6,000</text>
<line x1="159.2" x2="163.5" y1="362.0" y2="362.0" stroke="#1a1a1a" stroke-width="1"/>
<text class="dj" x="154.9" y="372.5" font-size="27.8" text-anchor="end">8,000</text>
<line x1="159.2" x2="163.5" y1="295.6" y2="295.6" stroke="#1a1a1a" stroke-width="1"/>
<text class="dj" x="154.9" y="306.1" font-size="27.8" text-anchor="end">10,000</text>
<line x1="159.2" x2="163.5" y1="229.2" y2="229.2" stroke="#1a1a1a" stroke-width="1"/>
<text class="dj" x="154.9" y="239.7" font-size="27.8" text-anchor="end">12,000</text>
<line x1="159.2" x2="163.5" y1="162.8" y2="162.8" stroke="#1a1a1a" stroke-width="1"/>
<text class="dj" x="154.9" y="173.3" font-size="27.8" text-anchor="end">14,000</text>
<line x1="159.2" x2="163.5" y1="96.4" y2="96.4" stroke="#1a1a1a" stroke-width="1"/>
<text class="dj" x="154.9" y="106.9" font-size="27.8" text-anchor="end">16,000</text>
<line x1="159.2" x2="163.5" y1="30.0" y2="30.0" stroke="#1a1a1a" stroke-width="1"/>
<text class="dj" x="154.9" y="40.5" font-size="27.8" text-anchor="end">18,000</text>
<text class="dj" x="469" y="691.4" font-size="33.0" text-anchor="middle">Time [days]</text>
<text class="dj" transform="translate(46.3,327.5) rotate(-90)" font-size="33.1" text-anchor="middle">River discharge at boundary [m<tspan font-size="23.3" dy="-12.4">3</tspan><tspan dy="12.4">/s]</tspan></text>
<text class="cb" x="185.0" y="78.4" font-size="43" textLength="50.4" lengthAdjust="spacingAndGlyphs">(a)</text>
</g>
<g id="panel1" transform="translate(829.5,30.5)">
<g clip-path="url(#pc)">
<use href="#basemap"/>
<clipPath id="cf1"><path d="M95.4 381.9L115.3 374.4L130.3 369.4L150.3 364.4L165.3 358.1L175.2 361.9L180.2 366.9L190.2 364.4L191.5 369.4L180.2 374.4L176.5 381.9L180.2 389.4L187.7 396.8L185.2 404.3L190.2 414.3L190.2 421.8L182.7 429.3L189.0 433.0L187.7 439.3L180.2 441.8L175.2 449.3L165.3 454.3L155.3 459.2L146.5 463.0L137.8 454.3L127.8 444.3L115.3 436.8L110.3 421.8L105.3 409.3L97.9 399.3L95.4 389.4Z" clip-rule="evenodd"/></clipPath>
<g filter="url(#rag)"><g clip-path="url(#cf1)"><g filter="url(#depth)">
<rect x="0" y="0" width="615.0" height="597.8" fill="rgb(31,31,31)"/>
<path d="M95.4 381.9L115.3 374.4L130.3 369.4L150.3 364.4L165.3 358.1L175.2 361.9L180.2 366.9L190.2 364.4L191.5 369.4L180.2 374.4L176.5 381.9L180.2 389.4L187.7 396.8L185.2 404.3L190.2 414.3L190.2 421.8L182.7 429.3L189.0 433.0L187.7 439.3L180.2 441.8L175.2 449.3L165.3 454.3L155.3 459.2L146.5 463.0L137.8 454.3L127.8 444.3L115.3 436.8L110.3 421.8L105.3 409.3L97.9 399.3L95.4 389.4Z" fill="none" stroke="rgb(20,20,20)" stroke-width="14" filter="url(#b3)" opacity="0.9"/>
<ellipse cx="135" cy="405" rx="30" ry="45" fill="rgb(48,48,48)" filter="url(#b6)" opacity="0.9" transform="rotate(-20 135 405)"/>
<ellipse cx="118" cy="400" rx="12" ry="32" fill="rgb(92,92,92)" filter="url(#b6)" opacity="0.85" transform="rotate(-25 118 400)"/>
<ellipse cx="150" cy="380" rx="22" ry="8" fill="rgb(76,76,76)" filter="url(#b3)" opacity="0.7" transform="rotate(-20 150 380)"/>
<ellipse cx="140" cy="430" rx="9" ry="16" fill="rgb(82,82,82)" filter="url(#b3)" opacity="0.7" transform="rotate(-30 140 430)"/>
</g></g></g>
<polyline points="296.0,496.6 317.2,491.3 341.1,499.2 362.3,515.1 367.6,528.4 383.5,547.0 410.1,554.9 439.2,560.2 476.4,548.3 492.3,560.2 502.9,589.4 505.5,602.7" fill="none" stroke="#e6c8d6" stroke-width="1"/>
<polyline points="595.7,545.6 603.7,560.2 615.6,565.5" fill="none" stroke="#e6c8d6" stroke-width="1"/>
<polyline points="296.0,496.6 280.1,507.2 261.5,525.8 242.9,528.4" fill="none" stroke="#e6c8d6" stroke-width="1"/>
<text class="ml" x="6.5" y="349.5" font-size="14.4" textLength="80" lengthAdjust="spacingAndGlyphs">ARNHEM</text>
<text class="ml" x="104" y="329.5" font-size="14.4" textLength="34" lengthAdjust="spacingAndGlyphs">Velp</text>
<text class="ml" x="151.5" y="414.3" font-size="14.4" textLength="53.5" lengthAdjust="spacingAndGlyphs">Duiven</text>
<text class="ml" x="49" y="435.5" font-size="14.4" textLength="61" lengthAdjust="spacingAndGlyphs">Huissen</text>
<text class="ml" x="205" y="440.5" font-size="14.4" textLength="70" lengthAdjust="spacingAndGlyphs">Zevenaar</text>
<text class="ml" x="273.2" y="295.4" font-size="14.4" textLength="74.4" lengthAdjust="spacingAndGlyphs">Doesburg</text>
<text class="ml" x="435" y="385.2" font-size="14.4" textLength="96.6" lengthAdjust="spacingAndGlyphs">Doetinchem</text>
<text class="ml" x="340.5" y="59" font-size="14.4" textLength="67" lengthAdjust="spacingAndGlyphs">Zutphen</text>
<text class="ml" x="595.6" y="23" font-size="14.4" textLength="20.5" lengthAdjust="spacingAndGlyphs">Lo</text>
<text class="dj" x="167.5" y="311" font-size="8" font-weight="700" fill="#5d7da0" textLength="30" lengthAdjust="spacingAndGlyphs" stroke="#fff" stroke-width="1.2" paint-order="stroke">Rheden</text>
<text class="dj" x="2" y="595.5" font-size="4.6" fill="#222" textLength="104" lengthAdjust="spacingAndGlyphs">(C) OpenStreetMap contributors (C) CARTO</text>
</g>
<rect x="0" y="0" width="615.0" height="597.8" fill="none" stroke="#a8a8a8" stroke-width="1"/>
</g>
<g id="panel2" transform="translate(1504.0,30.5)">
<g clip-path="url(#pc)">
<use href="#basemap"/>
<clipPath id="cf2"><path d="M97.5 391.7L100.3 384.2L107.8 378.6L122.8 373.0L139.7 367.4L149.0 363.6L154.7 352.4L158.4 341.2L165.9 337.4L177.1 339.3L184.6 343.0L199.6 342.1L210.8 335.5L223.9 326.2L229.6 318.7L237.0 317.8L242.7 322.4L248.3 328.1L257.6 331.8L268.9 328.1L278.2 320.6L283.9 311.2L293.2 305.6L302.6 299.0L315.7 298.1L325.1 298.1L326.9 303.7L338.2 305.6L347.5 307.5L355.0 311.2L355.0 316.8L368.1 317.8L372.8 320.6L372.8 326.2L362.5 324.3L353.2 326.2L355.0 333.7L356.9 341.2L363.5 344.9L366.3 354.3L362.5 358.0L356.9 356.1L351.3 361.8L343.8 365.5L338.2 371.1L332.6 369.3L326.9 374.9L332.6 378.6L328.8 384.2L325.1 391.7L313.8 395.5L304.5 397.3L293.2 401.1L285.7 408.6L283.9 417.9L283.9 427.3L280.1 434.8L278.2 442.3L274.5 446.0L267.0 444.2L261.4 447.9L253.9 448.8L250.2 443.2L227.7 444.2L225.8 451.6L218.3 455.4L209.0 459.1L207.1 464.8L199.6 468.5L195.9 475.1L188.4 472.2L180.9 466.6L173.4 462.9L164.0 468.5L154.7 471.3L147.2 471.3L139.7 464.8L132.2 455.4L122.8 447.9L115.3 440.4L112.5 429.2L107.8 417.9L102.2 408.6L97.5 401.1Z" clip-rule="evenodd"/></clipPath>
<g filter="url(#rag)"><g clip-path="url(#cf2)"><g filter="url(#depth)">
<rect x="0" y="0" width="615.0" height="597.8" fill="rgb(33,33,33)"/>
<path d="M97.5 391.7L100.3 384.2L107.8 378.6L122.8 373.0L139.7 367.4L149.0 363.6L154.7 352.4L158.4 341.2L165.9 337.4L177.1 339.3L184.6 343.0L199.6 342.1L210.8 335.5L223.9 326.2L229.6 318.7L237.0 317.8L242.7 322.4L248.3 328.1L257.6 331.8L268.9 328.1L278.2 320.6L283.9 311.2L293.2 305.6L302.6 299.0L315.7 298.1L325.1 298.1L326.9 303.7L338.2 305.6L347.5 307.5L355.0 311.2L355.0 316.8L368.1 317.8L372.8 320.6L372.8 326.2L362.5 324.3L353.2 326.2L355.0 333.7L356.9 341.2L363.5 344.9L366.3 354.3L362.5 358.0L356.9 356.1L351.3 361.8L343.8 365.5L338.2 371.1L332.6 369.3L326.9 374.9L332.6 378.6L328.8 384.2L325.1 391.7L313.8 395.5L304.5 397.3L293.2 401.1L285.7 408.6L283.9 417.9L283.9 427.3L280.1 434.8L278.2 442.3L274.5 446.0L267.0 444.2L261.4 447.9L253.9 448.8L250.2 443.2L227.7 444.2L225.8 451.6L218.3 455.4L209.0 459.1L207.1 464.8L199.6 468.5L195.9 475.1L188.4 472.2L180.9 466.6L173.4 462.9L164.0 468.5L154.7 471.3L147.2 471.3L139.7 464.8L132.2 455.4L122.8 447.9L115.3 440.4L112.5 429.2L107.8 417.9L102.2 408.6L97.5 401.1Z" fill="none" stroke="rgb(20,20,20)" stroke-width="14" filter="url(#b3)" opacity="0.9"/>
<ellipse cx="200" cy="400" rx="110" ry="60" fill="rgb(48,48,48)" filter="url(#b10)" opacity="0.95" transform="rotate(-22 200 400)"/>
<ellipse cx="320" cy="340" rx="70" ry="40" fill="rgb(38,38,38)" filter="url(#b10)" opacity="0.8" transform="rotate(-20 320 340)"/>
<ellipse cx="118" cy="400" rx="22" ry="50" fill="rgb(102,102,102)" filter="url(#b6)" opacity="0.85" transform="rotate(-15 118 400)"/>
<ellipse cx="175" cy="370" rx="40" ry="18" fill="rgb(84,84,84)" filter="url(#b6)" opacity="0.7" transform="rotate(-20 175 370)"/>
<ellipse cx="235" cy="335" rx="25" ry="12" fill="rgb(84,84,84)" filter="url(#b6)" opacity="0.7" transform="rotate(-20 235 335)"/>
<polyline points="139.7,374.9 154.7,371.1 165.9,367.4 180.9,369.3 190.2,363.6 199.6,354.3 210.8,350.5 223.9,348.7 231.4,341.2 237.0,331.8" fill="none" stroke="rgb(115,115,115)" stroke-width="2.2" stroke-linejoin="round" filter="url(#b1)"/>
<polyline points="225.8,348.7 227.7,367.4 225.8,386.1 222.1,399.2 214.6,412.3" fill="none" stroke="rgb(107,107,107)" stroke-width="1.8" stroke-linejoin="round" filter="url(#b1)"/>
<polyline points="253.9,401.1 253.9,388.0 263.3,387.0 278.2,386.1 280.1,374.9 289.5,363.6 300.7,356.1 315.7,350.5 326.9,341.2 330.7,328.1 328.8,314.9" fill="none" stroke="rgb(117,117,117)" stroke-width="2.0" stroke-linejoin="round" filter="url(#b1)"/>
<polyline points="104.1,389.9 107.8,401.1 113.5,412.3 119.1,423.6" fill="none" stroke="rgb(178,178,178)" stroke-width="4" stroke-linejoin="round" filter="url(#b1)"/>
<polyline points="158.4,374.9 162.1,386.1 158.4,397.3" fill="none" stroke="rgb(128,128,128)" stroke-width="2.2" stroke-linejoin="round" filter="url(#b1)"/>
<polyline points="122.8,378.6 130.3,382.4 137.8,389.9" fill="none" stroke="rgb(158,158,158)" stroke-width="3" stroke-linejoin="round" filter="url(#b1)"/>
<polyline points="165.9,363.6 169.6,371.1 164.0,374.9" fill="none" stroke="rgb(153,153,153)" stroke-width="3" stroke-linejoin="round" filter="url(#b1)"/>
</g></g></g>
<polyline points="296.0,496.6 317.2,491.3 341.1,499.2 362.3,515.1 367.6,528.4 383.5,547.0 410.1,554.9 439.2,560.2 476.4,548.3 492.3,560.2 502.9,589.4 505.5,602.7" fill="none" stroke="#e6c8d6" stroke-width="1"/>
<polyline points="595.7,545.6 603.7,560.2 615.6,565.5" fill="none" stroke="#e6c8d6" stroke-width="1"/>
<polyline points="296.0,496.6 280.1,507.2 261.5,525.8 242.9,528.4" fill="none" stroke="#e6c8d6" stroke-width="1"/>
<text class="ml" x="6.5" y="349.5" font-size="14.4" textLength="80" lengthAdjust="spacingAndGlyphs">ARNHEM</text>
<text class="ml" x="104" y="329.5" font-size="14.4" textLength="34" lengthAdjust="spacingAndGlyphs">Velp</text>
<text class="ml" x="151.5" y="414.3" font-size="14.4" textLength="53.5" lengthAdjust="spacingAndGlyphs">Duiven</text>
<text class="ml" x="49" y="435.5" font-size="14.4" textLength="61" lengthAdjust="spacingAndGlyphs">Huissen</text>
<text class="ml" x="205" y="440.5" font-size="14.4" textLength="70" lengthAdjust="spacingAndGlyphs">Zevenaar</text>
<text class="ml" x="273.2" y="295.4" font-size="14.4" textLength="74.4" lengthAdjust="spacingAndGlyphs">Doesburg</text>
<text class="ml" x="435" y="385.2" font-size="14.4" textLength="96.6" lengthAdjust="spacingAndGlyphs">Doetinchem</text>
<text class="ml" x="340.5" y="59" font-size="14.4" textLength="67" lengthAdjust="spacingAndGlyphs">Zutphen</text>
<text class="ml" x="595.6" y="23" font-size="14.4" textLength="20.5" lengthAdjust="spacingAndGlyphs">Lo</text>
<text class="dj" x="167.5" y="311" font-size="8" font-weight="700" fill="#5d7da0" textLength="30" lengthAdjust="spacingAndGlyphs" stroke="#fff" stroke-width="1.2" paint-order="stroke">Rheden</text>
<text class="dj" x="2" y="595.5" font-size="4.6" fill="#222" textLength="104" lengthAdjust="spacingAndGlyphs">(C) OpenStreetMap contributors (C) CARTO</text>
</g>
<rect x="0" y="0" width="615.0" height="597.8" fill="none" stroke="#a8a8a8" stroke-width="1"/>
</g>
<g id="panel3" transform="translate(829.5,659.5)">
<g clip-path="url(#pc)">
<use href="#basemap"/>
<clipPath id="cf3"><path d="M97.5 391.7L100.3 384.2L107.8 378.6L122.8 373.0L139.7 367.4L149.0 363.6L154.7 352.4L158.4 341.2L165.9 337.4L177.1 339.3L184.6 343.0L199.6 342.1L210.8 335.5L223.9 326.2L229.6 318.7L237.0 317.8L242.7 322.4L248.3 328.1L257.6 331.8L268.9 328.1L278.2 320.6L300.2 301.5L302.1 288.4L302.1 279.1L311.5 279.1L320.8 275.3L330.2 267.8L333.9 260.4L333.9 249.1L328.3 239.8L320.8 236.0L313.3 241.6L307.7 241.6L304.0 234.1L302.1 226.6L300.2 217.3L307.7 213.5L315.2 206.0L324.6 196.7L333.9 189.2L343.3 179.8L352.7 168.6L358.3 159.2L367.7 156.4L372.9 157.1L380.4 163.6L389.8 171.1L401.0 176.7L400.1 182.3L402.9 189.8L400.1 202.9L401.0 214.2L404.7 225.4L410.4 231.0L419.7 236.6L425.3 244.1L421.6 251.6L427.2 254.4L432.8 259.1L440.3 264.7L449.7 270.4L457.2 281.6L451.5 279.7L444.1 270.4L434.7 264.7L425.3 261.0L417.8 261.0L406.6 264.7L399.1 268.5L399.1 274.1L391.6 270.4L384.1 277.8L380.4 285.3L374.8 281.6L369.2 274.1L363.5 277.8L363.5 289.1L356.0 294.7L348.6 302.2L357.9 305.9L359.8 309.7L372.9 309.7L387.9 313.4L402.9 319.0L414.1 320.9L417.8 311.5L419.7 304.1L425.3 300.3L425.3 294.7L429.1 296.6L429.1 304.1L434.7 305.9L434.7 308.7L425.3 308.7L423.5 315.3L432.8 322.8L429.1 328.4L440.3 341.5L449.7 349.0L457.2 360.2L460.9 367.7L464.7 375.2L462.8 375.4L455.3 373.5L440.3 375.4L432.8 382.9L430.9 388.5L421.6 388.5L414.1 387.6L410.4 381.0L401.0 379.2L395.4 375.4L391.6 371.7L381.4 373.6L370.1 369.8L358.9 368.0L347.7 373.6L353.3 381.1L347.7 382.9L345.8 390.4L336.4 397.9L325.2 401.7L313.9 407.3L306.5 403.5L295.2 407.3L291.5 414.8L291.5 427.9L289.6 441.0L280.2 441.0L280.2 444.7L287.7 448.5L293.3 456.0L297.1 463.5L302.7 470.9L301.8 479.4L295.2 481.2L285.9 485.9L276.5 485.0L270.9 478.4L261.5 475.6L254.0 470.9L239.0 470.0L229.7 474.7L216.6 475.6L203.5 477.5L194.1 474.7L184.7 469.1L175.4 462.5L166.0 464.4L156.6 470.0L147.3 470.0L139.8 461.6L134.2 452.2L126.7 446.6L115.4 437.2L111.7 424.1L108.0 412.9L102.3 403.5L98.6 392.3ZM361.7 184.2L374.8 176.7L387.9 176.7L391.6 188.0L386.0 195.4L387.9 208.6L382.3 208.6L376.6 197.3L369.2 202.9L361.7 195.4Z" clip-rule="evenodd"/></clipPath>
<polyline points="479.6,386.6 479.6,403.5 483.4,412.9 489.0,422.2 492.7,429.7 502.1,434.4 522.7,435.3 522.7,442.8" fill="none" stroke="#3b3a82" stroke-width="2.2" stroke-linejoin="miter"/>
<polyline points="492.7,429.7 489.9,435.3 489.9,442.8" fill="none" stroke="#46307d" stroke-width="2.0" stroke-linejoin="miter"/>
<g filter="url(#rag)"><g clip-path="url(#cf3)"><g filter="url(#depth)">
<rect x="0" y="0" width="615.0" height="597.8" fill="rgb(36,36,36)"/>
<path d="M97.5 391.7L100.3 384.2L107.8 378.6L122.8 373.0L139.7 367.4L149.0 363.6L154.7 352.4L158.4 341.2L165.9 337.4L177.1 339.3L184.6 343.0L199.6 342.1L210.8 335.5L223.9 326.2L229.6 318.7L237.0 317.8L242.7 322.4L248.3 328.1L257.6 331.8L268.9 328.1L278.2 320.6L300.2 301.5L302.1 288.4L302.1 279.1L311.5 279.1L320.8 275.3L330.2 267.8L333.9 260.4L333.9 249.1L328.3 239.8L320.8 236.0L313.3 241.6L307.7 241.6L304.0 234.1L302.1 226.6L300.2 217.3L307.7 213.5L315.2 206.0L324.6 196.7L333.9 189.2L343.3 179.8L352.7 168.6L358.3 159.2L367.7 156.4L372.9 157.1L380.4 163.6L389.8 171.1L401.0 176.7L400.1 182.3L402.9 189.8L400.1 202.9L401.0 214.2L404.7 225.4L410.4 231.0L419.7 236.6L425.3 244.1L421.6 251.6L427.2 254.4L432.8 259.1L440.3 264.7L449.7 270.4L457.2 281.6L451.5 279.7L444.1 270.4L434.7 264.7L425.3 261.0L417.8 261.0L406.6 264.7L399.1 268.5L399.1 274.1L391.6 270.4L384.1 277.8L380.4 285.3L374.8 281.6L369.2 274.1L363.5 277.8L363.5 289.1L356.0 294.7L348.6 302.2L357.9 305.9L359.8 309.7L372.9 309.7L387.9 313.4L402.9 319.0L414.1 320.9L417.8 311.5L419.7 304.1L425.3 300.3L425.3 294.7L429.1 296.6L429.1 304.1L434.7 305.9L434.7 308.7L425.3 308.7L423.5 315.3L432.8 322.8L429.1 328.4L440.3 341.5L449.7 349.0L457.2 360.2L460.9 367.7L464.7 375.2L462.8 375.4L455.3 373.5L440.3 375.4L432.8 382.9L430.9 388.5L421.6 388.5L414.1 387.6L410.4 381.0L401.0 379.2L395.4 375.4L391.6 371.7L381.4 373.6L370.1 369.8L358.9 368.0L347.7 373.6L353.3 381.1L347.7 382.9L345.8 390.4L336.4 397.9L325.2 401.7L313.9 407.3L306.5 403.5L295.2 407.3L291.5 414.8L291.5 427.9L289.6 441.0L280.2 441.0L280.2 444.7L287.7 448.5L293.3 456.0L297.1 463.5L302.7 470.9L301.8 479.4L295.2 481.2L285.9 485.9L276.5 485.0L270.9 478.4L261.5 475.6L254.0 470.9L239.0 470.0L229.7 474.7L216.6 475.6L203.5 477.5L194.1 474.7L184.7 469.1L175.4 462.5L166.0 464.4L156.6 470.0L147.3 470.0L139.8 461.6L134.2 452.2L126.7 446.6L115.4 437.2L111.7 424.1L108.0 412.9L102.3 403.5L98.6 392.3ZM361.7 184.2L374.8 176.7L387.9 176.7L391.6 188.0L386.0 195.4L387.9 208.6L382.3 208.6L376.6 197.3L369.2 202.9L361.7 195.4Z" fill="none" stroke="rgb(20,20,20)" stroke-width="14" filter="url(#b3)" opacity="0.9"/>
<ellipse cx="210" cy="395" rx="130" ry="62" fill="rgb(84,84,84)" filter="url(#b10)" opacity="1" transform="rotate(-22 210 395)"/>
<ellipse cx="330" cy="325" rx="75" ry="35" fill="rgb(84,84,84)" filter="url(#b10)" opacity="0.95" transform="rotate(-10 330 325)"/>
<ellipse cx="400" cy="335" rx="50" ry="20" fill="rgb(61,61,61)" filter="url(#b10)" opacity="0.85" transform="rotate(25 400 335)"/>
<ellipse cx="122" cy="395" rx="24" ry="50" fill="rgb(133,133,133)" filter="url(#b6)" opacity="0.8" transform="rotate(-15 122 395)"/>
<ellipse cx="185" cy="355" rx="45" ry="18" fill="rgb(117,117,117)" filter="url(#b6)" opacity="0.7" transform="rotate(-20 185 355)"/>
<ellipse cx="300" cy="310" rx="30" ry="14" fill="rgb(128,128,128)" filter="url(#b6)" opacity="0.7" transform="rotate(-10 300 310)"/>
<polyline points="139.7,374.9 154.7,371.1 165.9,367.4 180.9,369.3 190.2,363.6 199.6,354.3 210.8,350.5 223.9,348.7 231.4,341.2 237.0,331.8" fill="none" stroke="rgb(148,148,148)" stroke-width="2.4" stroke-linejoin="round" filter="url(#b1)"/>
<polyline points="225.8,348.7 227.7,367.4 225.8,386.1 222.1,399.2 214.6,412.3" fill="none" stroke="rgb(135,135,135)" stroke-width="2.0" stroke-linejoin="round" filter="url(#b1)"/>
<polyline points="253.9,401.1 253.9,388.0 263.3,387.0 278.2,386.1 280.1,374.9 289.5,363.6 300.7,356.1 315.7,350.5 326.9,341.2 330.7,328.1 328.8,314.9" fill="none" stroke="rgb(148,148,148)" stroke-width="2.2" stroke-linejoin="round" filter="url(#b1)"/>
<polyline points="104.1,389.9 107.8,401.1 113.5,412.3 119.1,423.6" fill="none" stroke="rgb(178,178,178)" stroke-width="4" stroke-linejoin="round" filter="url(#b1)"/>
<polyline points="158.4,374.9 162.1,386.1 158.4,397.3" fill="none" stroke="rgb(153,153,153)" stroke-width="2.4" stroke-linejoin="round" filter="url(#b1)"/>
<polyline points="122.8,378.6 130.3,382.4 137.8,389.9" fill="none" stroke="rgb(168,168,168)" stroke-width="3" stroke-linejoin="round" filter="url(#b1)"/>
<polyline points="165.9,363.6 169.6,371.1 164.0,374.9" fill="none" stroke="rgb(168,168,168)" stroke-width="3.5" stroke-linejoin="round" filter="url(#b1)"/>
<polyline points="319.9,310.9 338.4,313.6 357.0,317.5 375.6,324.2 391.5,321.5" fill="none" stroke="rgb(138,138,138)" stroke-width="2.2" stroke-linejoin="round" filter="url(#b1)"/>
<polyline points="327.8,313.6 331.8,329.5 335.8,348.0 341.1,366.6" fill="none" stroke="rgb(138,138,138)" stroke-width="2.2" stroke-linejoin="round" filter="url(#b1)"/>
<polyline points="402.1,329.5 415.4,340.1 433.9,356.0 452.5,371.9 465.8,382.5" fill="none" stroke="rgb(138,138,138)" stroke-width="2.2" stroke-linejoin="round" filter="url(#b1)"/>
</g></g></g>
<polyline points="296.0,496.6 317.2,491.3 341.1,499.2 362.3,515.1 367.6,528.4 383.5,547.0 410.1,554.9 439.2,560.2 476.4,548.3 492.3,560.2 502.9,589.4 505.5,602.7" fill="none" stroke="#e6c8d6" stroke-width="1"/>
<polyline points="595.7,545.6 603.7,560.2 615.6,565.5" fill="none" stroke="#e6c8d6" stroke-width="1"/>
<polyline points="296.0,496.6 280.1,507.2 261.5,525.8 242.9,528.4" fill="none" stroke="#e6c8d6" stroke-width="1"/>
<text class="ml" x="6.5" y="349.5" font-size="14.4" textLength="80" lengthAdjust="spacingAndGlyphs">ARNHEM</text>
<text class="ml" x="104" y="329.5" font-size="14.4" textLength="34" lengthAdjust="spacingAndGlyphs">Velp</text>
<text class="ml" x="151.5" y="414.3" font-size="14.4" textLength="53.5" lengthAdjust="spacingAndGlyphs">Duiven</text>
<text class="ml" x="49" y="435.5" font-size="14.4" textLength="61" lengthAdjust="spacingAndGlyphs">Huissen</text>
<text class="ml" x="205" y="440.5" font-size="14.4" textLength="70" lengthAdjust="spacingAndGlyphs">Zevenaar</text>
<text class="ml" x="273.2" y="295.4" font-size="14.4" textLength="74.4" lengthAdjust="spacingAndGlyphs">Doesburg</text>
<text class="ml" x="435" y="385.2" font-size="14.4" textLength="96.6" lengthAdjust="spacingAndGlyphs">Doetinchem</text>
<text class="ml" x="340.5" y="59" font-size="14.4" textLength="67" lengthAdjust="spacingAndGlyphs">Zutphen</text>
<text class="ml" x="595.6" y="23" font-size="14.4" textLength="20.5" lengthAdjust="spacingAndGlyphs">Lo</text>
<text class="dj" x="167.5" y="311" font-size="8" font-weight="700" fill="#5d7da0" textLength="30" lengthAdjust="spacingAndGlyphs" stroke="#fff" stroke-width="1.2" paint-order="stroke">Rheden</text>
<text class="dj" x="2" y="595.5" font-size="4.6" fill="#222" textLength="104" lengthAdjust="spacingAndGlyphs">(C) OpenStreetMap contributors (C) CARTO</text>
</g>
<rect x="0" y="0" width="615.0" height="597.8" fill="none" stroke="#a8a8a8" stroke-width="1"/>
</g>
<g id="panel4" transform="translate(1504.0,659.5)">
<g clip-path="url(#pc)">
<use href="#basemap"/>
<clipPath id="cf4"><path d="M97.5 391.7L100.3 384.2L107.8 378.6L122.8 373.0L139.7 367.4L149.0 363.6L154.7 352.4L158.4 341.2L165.9 337.4L177.1 339.3L184.6 343.0L199.6 342.1L210.8 335.5L223.9 326.2L229.6 318.7L237.0 317.8L242.7 322.4L248.3 328.1L257.6 331.8L268.9 328.1L278.2 320.6L285.7 311.2L293.2 305.6L300.7 296.2L302.6 281.2L300.2 278.4L317.1 273.5L331.6 261.4L334.1 244.5L326.8 234.8L314.7 237.2L300.2 246.9L290.5 237.2L288.1 230.0L295.4 220.3L307.4 215.5L317.1 203.4L331.6 191.3L346.1 179.2L358.2 159.8L372.8 152.6L392.1 147.7L404.2 145.3L404.2 135.6L404.2 118.7L396.9 104.2L382.4 96.9L375.2 89.7L372.8 75.2L370.3 63.1L367.9 51.0L366.7 34.0L367.9 17.1L370.3 5.5L382.4 12.3L396.9 19.5L411.5 15.9L428.4 14.7L442.9 15.9L450.2 24.4L459.8 26.8L469.5 34.0L474.4 41.3L474.4 51.0L469.5 58.2L479.2 63.1L476.8 72.7L481.6 82.4L484.0 99.4L481.6 116.3L481.6 135.6L501.0 136.8L525.2 132.0L525.2 135.6L503.4 139.3L481.6 142.9L479.2 155.0L484.0 169.5L481.6 184.0L481.6 196.1L474.4 203.4L469.5 213.0L464.7 222.7L462.3 232.4L457.4 244.5L462.3 261.4L463.1 260.5L465.8 276.4L460.5 289.7L471.1 308.2L465.8 297.6L455.2 295.0L447.2 300.3L455.2 313.6L468.4 316.2L481.7 316.2L489.6 326.8L489.6 334.8L481.7 326.8L473.7 318.9L460.5 321.5L452.5 313.6L439.2 321.5L433.9 326.8L439.2 340.1L449.8 348.0L457.8 358.6L465.8 366.6L468.4 374.6L465.8 385.2L479.0 387.8L479.0 398.4L468.4 403.7L460.5 395.8L452.5 390.5L441.9 393.1L443.2 403.7L428.6 403.7L420.7 395.8L410.1 393.1L402.1 387.8L402.1 382.5L394.1 379.9L396.0 378.6L385.0 380.5L373.8 376.7L364.4 371.1L353.2 371.1L347.5 376.7L356.9 380.5L360.6 386.1L353.2 389.9L345.7 393.6L343.8 399.2L351.3 401.1L351.3 406.7L338.2 408.6L330.7 412.3L319.4 406.7L306.3 408.6L297.0 412.3L293.2 417.9L300.7 421.7L310.1 421.7L313.8 425.4L302.6 429.2L295.1 434.8L289.5 438.5L289.5 446.0L297.0 446.0L302.6 449.8L306.3 459.1L310.1 468.5L312.0 477.9L313.8 487.2L306.3 489.1L300.7 498.5L297.0 491.0L287.6 496.6L278.2 494.7L268.9 504.1L261.4 500.3L257.6 492.8L261.4 487.2L253.9 481.6L244.5 477.9L235.2 476.0L222.1 475.1L209.0 477.9L199.6 476.9L195.9 475.1L188.4 472.2L180.9 466.6L173.4 462.9L164.0 468.5L154.7 471.3L147.2 471.3L139.7 464.8L132.2 455.4L122.8 447.9L115.3 440.4L112.5 429.2L107.8 417.9L102.2 408.6L97.5 401.1ZM396.8 289.7L412.7 287.0L415.4 313.6L407.4 318.9L396.8 313.6L375.6 310.9L370.3 305.6L383.5 300.3L402.1 300.3Z" clip-rule="evenodd"/></clipPath>
<polyline points="479.0,387.8 481.7,403.7 487.0,419.7 492.3,430.3 502.9,435.6 516.2,435.6 534.7,434.2 545.3,426.3 555.9,421.0 569.2,415.1" fill="none" stroke="#27808e" stroke-width="2.6" stroke-linejoin="miter"/>
<polyline points="516.2,436.9 532.1,451.5 542.7,462.1 553.3,472.7 563.9,483.3 577.2,493.9 590.4,505.9 595.7,520.4 597.9,533.7 597.9,549.6 597.9,565.5" fill="none" stroke="#27808e" stroke-width="2.6" stroke-linejoin="miter"/>
<polyline points="597.9,533.7 614.3,535.8" fill="none" stroke="#27808e" stroke-width="2.6" stroke-linejoin="miter"/>
<polyline points="492.3,432.9 488.3,446.2 483.0,456.8 492.3,466.1 499.7,472.7 500.8,482.0" fill="none" stroke="#27808e" stroke-width="2.6" stroke-linejoin="miter"/>
<g filter="url(#rag)"><g clip-path="url(#cf4)"><g filter="url(#depth)">
<rect x="0" y="0" width="615.0" height="597.8" fill="rgb(51,51,51)"/>
<path d="M97.5 391.7L100.3 384.2L107.8 378.6L122.8 373.0L139.7 367.4L149.0 363.6L154.7 352.4L158.4 341.2L165.9 337.4L177.1 339.3L184.6 343.0L199.6 342.1L210.8 335.5L223.9 326.2L229.6 318.7L237.0 317.8L242.7 322.4L248.3 328.1L257.6 331.8L268.9 328.1L278.2 320.6L285.7 311.2L293.2 305.6L300.7 296.2L302.6 281.2L300.2 278.4L317.1 273.5L331.6 261.4L334.1 244.5L326.8 234.8L314.7 237.2L300.2 246.9L290.5 237.2L288.1 230.0L295.4 220.3L307.4 215.5L317.1 203.4L331.6 191.3L346.1 179.2L358.2 159.8L372.8 152.6L392.1 147.7L404.2 145.3L404.2 135.6L404.2 118.7L396.9 104.2L382.4 96.9L375.2 89.7L372.8 75.2L370.3 63.1L367.9 51.0L366.7 34.0L367.9 17.1L370.3 5.5L382.4 12.3L396.9 19.5L411.5 15.9L428.4 14.7L442.9 15.9L450.2 24.4L459.8 26.8L469.5 34.0L474.4 41.3L474.4 51.0L469.5 58.2L479.2 63.1L476.8 72.7L481.6 82.4L484.0 99.4L481.6 116.3L481.6 135.6L501.0 136.8L525.2 132.0L525.2 135.6L503.4 139.3L481.6 142.9L479.2 155.0L484.0 169.5L481.6 184.0L481.6 196.1L474.4 203.4L469.5 213.0L464.7 222.7L462.3 232.4L457.4 244.5L462.3 261.4L463.1 260.5L465.8 276.4L460.5 289.7L471.1 308.2L465.8 297.6L455.2 295.0L447.2 300.3L455.2 313.6L468.4 316.2L481.7 316.2L489.6 326.8L489.6 334.8L481.7 326.8L473.7 318.9L460.5 321.5L452.5 313.6L439.2 321.5L433.9 326.8L439.2 340.1L449.8 348.0L457.8 358.6L465.8 366.6L468.4 374.6L465.8 385.2L479.0 387.8L479.0 398.4L468.4 403.7L460.5 395.8L452.5 390.5L441.9 393.1L443.2 403.7L428.6 403.7L420.7 395.8L410.1 393.1L402.1 387.8L402.1 382.5L394.1 379.9L396.0 378.6L385.0 380.5L373.8 376.7L364.4 371.1L353.2 371.1L347.5 376.7L356.9 380.5L360.6 386.1L353.2 389.9L345.7 393.6L343.8 399.2L351.3 401.1L351.3 406.7L338.2 408.6L330.7 412.3L319.4 406.7L306.3 408.6L297.0 412.3L293.2 417.9L300.7 421.7L310.1 421.7L313.8 425.4L302.6 429.2L295.1 434.8L289.5 438.5L289.5 446.0L297.0 446.0L302.6 449.8L306.3 459.1L310.1 468.5L312.0 477.9L313.8 487.2L306.3 489.1L300.7 498.5L297.0 491.0L287.6 496.6L278.2 494.7L268.9 504.1L261.4 500.3L257.6 492.8L261.4 487.2L253.9 481.6L244.5 477.9L235.2 476.0L222.1 475.1L209.0 477.9L199.6 476.9L195.9 475.1L188.4 472.2L180.9 466.6L173.4 462.9L164.0 468.5L154.7 471.3L147.2 471.3L139.7 464.8L132.2 455.4L122.8 447.9L115.3 440.4L112.5 429.2L107.8 417.9L102.2 408.6L97.5 401.1ZM396.8 289.7L412.7 287.0L415.4 313.6L407.4 318.9L396.8 313.6L375.6 310.9L370.3 305.6L383.5 300.3L402.1 300.3Z" fill="none" stroke="rgb(20,20,20)" stroke-width="14" filter="url(#b3)" opacity="0.9"/>
<ellipse cx="210" cy="395" rx="135" ry="65" fill="rgb(94,94,94)" filter="url(#b10)" opacity="1" transform="rotate(-22 210 395)"/>
<ellipse cx="330" cy="325" rx="80" ry="38" fill="rgb(94,94,94)" filter="url(#b10)" opacity="0.95" transform="rotate(-10 330 325)"/>
<ellipse cx="410" cy="338" rx="55" ry="22" fill="rgb(71,71,71)" filter="url(#b10)" opacity="0.9" transform="rotate(25 410 338)"/>
<ellipse cx="122" cy="395" rx="24" ry="50" fill="rgb(143,143,143)" filter="url(#b6)" opacity="0.8" transform="rotate(-15 122 395)"/>
<ellipse cx="185" cy="355" rx="45" ry="18" fill="rgb(128,128,128)" filter="url(#b6)" opacity="0.7" transform="rotate(-20 185 355)"/>
<ellipse cx="385" cy="120" rx="30" ry="80" fill="rgb(71,71,71)" filter="url(#b10)" opacity="0.8" transform="rotate(5 385 120)"/>
<ellipse cx="350" cy="230" rx="45" ry="30" fill="rgb(76,76,76)" filter="url(#b10)" opacity="0.8" transform="rotate(0 350 230)"/>
<ellipse cx="300" cy="310" rx="30" ry="14" fill="rgb(140,140,140)" filter="url(#b6)" opacity="0.7" transform="rotate(-10 300 310)"/>
<polyline points="139.7,374.9 154.7,371.1 165.9,367.4 180.9,369.3 190.2,363.6 199.6,354.3 210.8,350.5 223.9,348.7 231.4,341.2 237.0,331.8" fill="none" stroke="rgb(156,156,156)" stroke-width="2.4" stroke-linejoin="round" filter="url(#b1)"/>
<polyline points="225.8,348.7 227.7,367.4 225.8,386.1 222.1,399.2 214.6,412.3" fill="none" stroke="rgb(143,143,143)" stroke-width="2.0" stroke-linejoin="round" filter="url(#b1)"/>
<polyline points="253.9,401.1 253.9,388.0 263.3,387.0 278.2,386.1 280.1,374.9 289.5,363.6 300.7,356.1 315.7,350.5 326.9,341.2 330.7,328.1 328.8,314.9" fill="none" stroke="rgb(156,156,156)" stroke-width="2.2" stroke-linejoin="round" filter="url(#b1)"/>
<polyline points="104.1,389.9 107.8,401.1 113.5,412.3 119.1,423.6" fill="none" stroke="rgb(186,186,186)" stroke-width="4" stroke-linejoin="round" filter="url(#b1)"/>
<polyline points="158.4,374.9 162.1,386.1 158.4,397.3" fill="none" stroke="rgb(158,158,158)" stroke-width="2.4" stroke-linejoin="round" filter="url(#b1)"/>
<polyline points="122.8,378.6 130.3,382.4 137.8,389.9" fill="none" stroke="rgb(178,178,178)" stroke-width="3" stroke-linejoin="round" filter="url(#b1)"/>
<polyline points="165.9,363.6 169.6,371.1 164.0,374.9" fill="none" stroke="rgb(178,178,178)" stroke-width="3.5" stroke-linejoin="round" filter="url(#b1)"/>
<polyline points="319.9,310.9 338.4,313.6 357.0,317.5 375.6,324.2 391.5,321.5" fill="none" stroke="rgb(145,145,145)" stroke-width="2.2" stroke-linejoin="round" filter="url(#b1)"/>
<polyline points="327.8,313.6 331.8,329.5 335.8,348.0 341.1,366.6" fill="none" stroke="rgb(145,145,145)" stroke-width="2.2" stroke-linejoin="round" filter="url(#b1)"/>
<polyline points="402.1,329.5 415.4,340.1 433.9,356.0 452.5,371.9 465.8,382.5" fill="none" stroke="rgb(145,145,145)" stroke-width="2.2" stroke-linejoin="round" filter="url(#b1)"/>
<polyline points="296.0,350.7 309.3,348.0 319.9,340.1 325.2,329.5" fill="none" stroke="rgb(145,145,145)" stroke-width="2.2" stroke-linejoin="round" filter="url(#b1)"/>
<polyline points="403.0,147.7 406.6,159.8 405.4,171.9 399.4,176.8 392.1,178.7" fill="none" stroke="rgb(173,173,173)" stroke-width="2.6" stroke-linejoin="round" filter="url(#b1)"/>
<polyline points="377.6,70.3 392.1,72.7 406.6,70.3 421.1,75.2 433.2,70.3" fill="none" stroke="rgb(122,122,122)" stroke-width="2.2" stroke-linejoin="round" filter="url(#b1)"/>
<polyline points="411.5,96.9 426.0,104.2 445.3,109.0 459.8,106.6" fill="none" stroke="rgb(122,122,122)" stroke-width="2.2" stroke-linejoin="round" filter="url(#b1)"/>
<polyline points="377.6,246.9 396.9,254.2 421.1,261.4 445.3,271.1 459.8,280.8" fill="none" stroke="rgb(122,122,122)" stroke-width="2.2" stroke-linejoin="round" filter="url(#b1)"/>
<polyline points="317.1,208.2 334.1,210.6 346.1,208.2 355.8,196.1" fill="none" stroke="rgb(122,122,122)" stroke-width="2.2" stroke-linejoin="round" filter="url(#b1)"/>
</g></g></g>
<polyline points="296.0,496.6 317.2,491.3 341.1,499.2 362.3,515.1 367.6,528.4 383.5,547.0 410.1,554.9 439.2,560.2 476.4,548.3 492.3,560.2 502.9,589.4 505.5,602.7" fill="none" stroke="#e6c8d6" stroke-width="1"/>
<polyline points="595.7,545.6 603.7,560.2 615.6,565.5" fill="none" stroke="#e6c8d6" stroke-width="1"/>
<polyline points="296.0,496.6 280.1,507.2 261.5,525.8 242.9,528.4" fill="none" stroke="#e6c8d6" stroke-width="1"/>
<text class="ml" x="6.5" y="349.5" font-size="14.4" textLength="80" lengthAdjust="spacingAndGlyphs">ARNHEM</text>
<text class="ml" x="104" y="329.5" font-size="14.4" textLength="34" lengthAdjust="spacingAndGlyphs">Velp</text>
<text class="ml" x="151.5" y="414.3" font-size="14.4" textLength="53.5" lengthAdjust="spacingAndGlyphs">Duiven</text>
<text class="ml" x="49" y="435.5" font-size="14.4" textLength="61" lengthAdjust="spacingAndGlyphs">Huissen</text>
<text class="ml" x="205" y="440.5" font-size="14.4" textLength="70" lengthAdjust="spacingAndGlyphs">Zevenaar</text>
<text class="ml" x="273.2" y="295.4" font-size="14.4" textLength="74.4" lengthAdjust="spacingAndGlyphs">Doesburg</text>
<text class="ml" x="435" y="385.2" font-size="14.4" textLength="96.6" lengthAdjust="spacingAndGlyphs">Doetinchem</text>
<text class="ml" x="340.5" y="59" font-size="14.4" textLength="67" lengthAdjust="spacingAndGlyphs">Zutphen</text>
<text class="ml" x="595.6" y="23" font-size="14.4" textLength="20.5" lengthAdjust="spacingAndGlyphs">Lo</text>
<text class="dj" x="167.5" y="311" font-size="8" font-weight="700" fill="#5d7da0" textLength="30" lengthAdjust="spacingAndGlyphs" stroke="#fff" stroke-width="1.2" paint-order="stroke">Rheden</text>
<text class="dj" x="2" y="595.5" font-size="4.6" fill="#222" textLength="104" lengthAdjust="spacingAndGlyphs">(C) OpenStreetMap contributors (C) CARTO</text>
</g>
<rect x="0" y="0" width="615.0" height="597.8" fill="none" stroke="#a8a8a8" stroke-width="1"/>
</g>
<rect x="2139.6" y="30.5" width="43.8" height="597.8" fill="url(#vir)"/>
<rect x="2139.6" y="30.5" width="43.8" height="597.8" fill="none" stroke="#777" stroke-width="0.6"/>
<line x1="2183.4" x2="2185.4" y1="628.3" y2="628.3" stroke="#444" stroke-width="0.8"/>
<text class="dj" x="2187.2" y="637.8" font-size="25.3">0</text>
<line x1="2183.4" x2="2185.4" y1="553.6" y2="553.6" stroke="#444" stroke-width="0.8"/>
<text class="dj" x="2187.2" y="563.1" font-size="25.3">1</text>
<line x1="2183.4" x2="2185.4" y1="478.8" y2="478.8" stroke="#444" stroke-width="0.8"/>
<text class="dj" x="2187.2" y="488.3" font-size="25.3">2</text>
<line x1="2183.4" x2="2185.4" y1="404.1" y2="404.1" stroke="#444" stroke-width="0.8"/>
<text class="dj" x="2187.2" y="413.6" font-size="25.3">3</text>
<line x1="2183.4" x2="2185.4" y1="329.4" y2="329.4" stroke="#444" stroke-width="0.8"/>
<text class="dj" x="2187.2" y="338.9" font-size="25.3">4</text>
<line x1="2183.4" x2="2185.4" y1="254.7" y2="254.7" stroke="#444" stroke-width="0.8"/>
<text class="dj" x="2187.2" y="264.2" font-size="25.3">5</text>
<line x1="2183.4" x2="2185.4" y1="179.9" y2="179.9" stroke="#444" stroke-width="0.8"/>
<text class="dj" x="2187.2" y="189.4" font-size="25.3">6</text>
<line x1="2183.4" x2="2185.4" y1="105.2" y2="105.2" stroke="#444" stroke-width="0.8"/>
<text class="dj" x="2187.2" y="114.7" font-size="25.3">7</text>
<line x1="2183.4" x2="2185.4" y1="30.5" y2="30.5" stroke="#444" stroke-width="0.8"/>
<text class="dj" x="2187.2" y="40.0" font-size="25.3">8</text>
<text class="dj" transform="translate(2230.5,329.8) rotate(-90)" font-size="31.9" text-anchor="middle">Water depth [m]</text>
<rect x="2139.6" y="659.5" width="43.8" height="597.8" fill="url(#vir)"/>
<rect x="2139.6" y="659.5" width="43.8" height="597.8" fill="none" stroke="#777" stroke-width="0.6"/>
<line x1="2183.4" x2="2185.4" y1="1257.3" y2="1257.3" stroke="#444" stroke-width="0.8"/>
<text class="dj" x="2187.2" y="1266.8" font-size="25.3">0</text>
<line x1="2183.4" x2="2185.4" y1="1182.6" y2="1182.6" stroke="#444" stroke-width="0.8"/>
<text class="dj" x="2187.2" y="1192.1" font-size="25.3">1</text>
<line x1="2183.4" x2="2185.4" y1="1107.8" y2="1107.8" stroke="#444" stroke-width="0.8"/>
<text class="dj" x="2187.2" y="1117.3" font-size="25.3">2</text>
<line x1="2183.4" x2="2185.4" y1="1033.1" y2="1033.1" stroke="#444" stroke-width="0.8"/>
<text class="dj" x="2187.2" y="1042.6" font-size="25.3">3</text>
<line x1="2183.4" x2="2185.4" y1="958.4" y2="958.4" stroke="#444" stroke-width="0.8"/>
<text class="dj" x="2187.2" y="967.9" font-size="25.3">4</text>
<line x1="2183.4" x2="2185.4" y1="883.7" y2="883.7" stroke="#444" stroke-width="0.8"/>
<text class="dj" x="2187.2" y="893.2" font-size="25.3">5</text>
<line x1="2183.4" x2="2185.4" y1="809.0" y2="809.0" stroke="#444" stroke-width="0.8"/>
<text class="dj" x="2187.2" y="818.5" font-size="25.3">6</text>
<line x1="2183.4" x2="2185.4" y1="734.2" y2="734.2" stroke="#444" stroke-width="0.8"/>
<text class="dj" x="2187.2" y="743.7" font-size="25.3">7</text>
<line x1="2183.4" x2="2185.4" y1="659.5" y2="659.5" stroke="#444" stroke-width="0.8"/>
<text class="dj" x="2187.2" y="669.0" font-size="25.3">8</text>
<text class="dj" transform="translate(2230.5,958.8) rotate(-90)" font-size="31.9" text-anchor="middle">Water depth [m]</text>
<g id="overlays">
<text class="cb" x="855.2" y="80.8" font-size="43" textLength="52.4" lengthAdjust="spacingAndGlyphs">(b)</text>
<text class="cb" x="1253.6" y="90" font-size="41" textLength="140.2" lengthAdjust="spacingAndGlyphs">T = 3 hr</text>
<text class="cb" x="1536.3" y="90.6" font-size="41" textLength="164.2" lengthAdjust="spacingAndGlyphs">T = 12 hr</text>
<text class="cb" x="1238.9" y="722.4" font-size="41" textLength="164.2" lengthAdjust="spacingAndGlyphs">T = 24 hr</text>
<text class="cb" x="1536.3" y="723.5" font-size="41" textLength="164.2" lengthAdjust="spacingAndGlyphs">T = 48 hr</text>
<text class="cb" x="1215.2" y="267" font-size="36.4" fill="#5b9bd5" textLength="87.4" lengthAdjust="spacingAndGlyphs">IJssel</text>
<text class="cb" x="888.6" y="559.5" font-size="35.6" fill="#5b9bd5" textLength="84.8" lengthAdjust="spacingAndGlyphs">Waal</text>
<text class="cb" x="1066.3" y="559.5" font-size="35.6" fill="#5b9bd5" textLength="349.5" lengthAdjust="spacingAndGlyphs">Pannerdensch Canal</text>
<g fill="none" stroke="#5b9bd5" stroke-width="4.5" stroke-linecap="butt" stroke-linejoin="miter"><line x1="1174.8" y1="264.8" x2="1197.5" y2="243.1"/><polyline points="1197.1,262.6 1197.5,243.1 1178.0,242.7"/></g>
<g fill="none" stroke="#5b9bd5" stroke-width="4.5" stroke-linecap="butt" stroke-linejoin="miter"><line x1="874.9" y1="547.6" x2="846.6" y2="547.6"/><polyline points="861.9,534.7 846.6,547.6 861.9,560.5"/></g>
<g fill="none" stroke="#5b9bd5" stroke-width="4.5" stroke-linecap="butt" stroke-linejoin="miter"><line x1="1051.5" y1="557.9" x2="1029.4" y2="535.8"/><polyline points="1048.9,535.8 1029.4,535.8 1029.4,555.3"/></g>
<g stroke="#ff0000" stroke-width="10" stroke-linecap="butt"><line x1="910.7" y1="404" x2="941.5" y2="434.8"/><line x1="910.7" y1="434.8" x2="941.5" y2="404"/></g>
<circle cx="2002.2" cy="153.4" r="45.65" fill="none" stroke="#000" stroke-width="8.5"/>
<path d="M2002.3 125.2 L2013.9 153.6 L2002.3 182 L1990.8 153.6 Z" fill="#000"/>
<circle cx="2002.3" cy="153.6" r="2.9" fill="#fff"/>
<text class="cb" x="1985.1" y="87" font-size="38.6" textLength="30.2" lengthAdjust="spacingAndGlyphs">N</text>
<rect x="1919.9" y="216.8" width="165.6" height="8.1" fill="#000"/>
<text class="cb" x="1939.9" y="277.2" font-size="37.4" textLength="116.6" lengthAdjust="spacingAndGlyphs">10 km</text>
</g>
</svg></body></html>
